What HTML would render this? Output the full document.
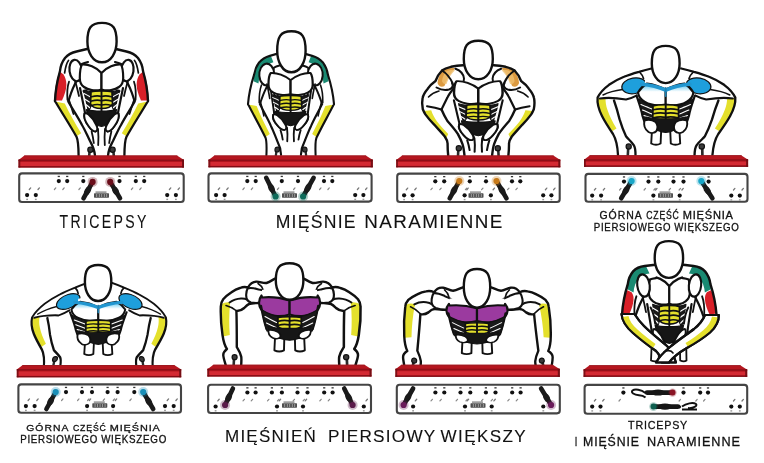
<!DOCTYPE html>
<html><head><meta charset="utf-8"><style>
html,body{margin:0;padding:0;background:#fff;}
svg{display:block;filter:blur(0.35px);}
</style></head><body>
<svg width="764" height="463" viewBox="0 0 764 463">
<rect width="764" height="463" fill="#fff"/>
<g id="figs"><g transform="translate(0 0)"><path d="M84.5 113.5 C83.5 117, 85.5 122, 88.5 126 C90.5 129, 93 131.5, 95.5 131.5 C97.5 131, 97.8 128.5, 96.5 125.5 C94.5 121, 91.5 117, 88.5 114.5 C87 113.3, 85.5 113, 84.5 113.5 Z" fill="#fff" stroke="#111" stroke-width="1.9" stroke-linejoin="round" stroke-linecap="round" />
<path d="M91.6 131.6 C92.5 135, 93.3 139, 93.8 143" fill="none" stroke="#111" stroke-width="1.8" stroke-linejoin="round" stroke-linecap="round" />
<path d="M98 129 C98.5 134, 98.6 139, 98.2 145" fill="none" stroke="#111" stroke-width="1.8" stroke-linejoin="round" stroke-linecap="round" /></g>
<g transform="translate(0 0)"><g transform="translate(203 0) scale(-1 1)"><path d="M84.5 113.5 C83.5 117, 85.5 122, 88.5 126 C90.5 129, 93 131.5, 95.5 131.5 C97.5 131, 97.8 128.5, 96.5 125.5 C94.5 121, 91.5 117, 88.5 114.5 C87 113.3, 85.5 113, 84.5 113.5 Z" fill="#fff" stroke="#111" stroke-width="1.9" stroke-linejoin="round" stroke-linecap="round" />
<path d="M91.6 131.6 C92.5 135, 93.3 139, 93.8 143" fill="none" stroke="#111" stroke-width="1.8" stroke-linejoin="round" stroke-linecap="round" />
<path d="M98 129 C98.5 134, 98.6 139, 98.2 145" fill="none" stroke="#111" stroke-width="1.8" stroke-linejoin="round" stroke-linecap="round" /></g></g>
<g transform="matrix(1.00000 -0.00000 -0.00000 1.00000 -0.0000 0.0000)"><path d="M55 101 C62 113, 70 125, 76.6 137 C78 140, 78.5 146, 78.6 155.5 L95 155.5 C94.5 150, 93 146, 90 141 C87 135, 85 130, 82 125 C78 117, 73 110, 68 101 Z" fill="#fff" stroke="none" stroke-width="0" stroke-linejoin="round" stroke-linecap="round" />
<path d="M55.5 101.5 C62 113, 69.5 125, 76.2 136.5 L81.2 133.3 C75 123, 69.5 113.5, 64.8 103.5 Z" fill="#e4e02c" stroke="none" stroke-width="0" stroke-linejoin="round" stroke-linecap="round" />
<path d="M55 101 C62 113, 70 125, 76.6 137 C78 140, 78.5 146, 78.6 155.5 M95 155.5 C94.5 150, 93 146, 90 141 C87 135, 85 130, 82 125 C78 117, 73 110, 68 101" fill="none" stroke="#111" stroke-width="2.3" stroke-linejoin="round" stroke-linecap="round" />
<path d="M69 100 C71 105, 72 110, 73.5 114" fill="none" stroke="#111" stroke-width="1.7" stroke-linejoin="round" stroke-linecap="round" />
<path d="M76.6 51.5 C72 52.5, 68 54.5, 65 58 C62 62, 60.5 66, 60 71 C58 78, 55.5 88, 55 101 C59 102.5, 64 102.5, 68.5 101 C70 96, 72 90, 74 86 C77 80, 80 74, 81 68 L82 64 C84 63, 86 62.5, 88 62 L87 49 Z" fill="#fff" stroke="none" stroke-width="0" stroke-linejoin="round" stroke-linecap="round" />
<path d="M59.8 71.5 C57 77, 54.6 88, 54.5 100.5 L62 100.5 C64.5 95, 66.2 90, 66.4 85 C66.5 80.5, 65 77, 63.5 74.5 Z" fill="#d81f28" stroke="none" stroke-width="0" stroke-linejoin="round" stroke-linecap="round" />
<path d="M87 49 L76.6 51.5 C72 52.5, 68 54.5, 65 58 C62 62, 60.5 66, 60 71 C58 78, 55.5 88, 55 101" fill="none" stroke="#111" stroke-width="2.4" stroke-linejoin="round" stroke-linecap="round" />
<path d="M68.5 101 C70 96, 72 90, 74 86 C77 80, 80 74, 81 68 L82 64 C84 63, 86 62.5, 88 62" fill="none" stroke="#111" stroke-width="2.2" stroke-linejoin="round" stroke-linecap="round" />
<ellipse cx="75.8" cy="70.5" rx="6.3" ry="10.8" transform="rotate(-8 75.8 70.5)" fill="#fff" stroke="#111" stroke-width="2.2"/>
<path d="M68.5 60.5 C66.5 63, 65.5 67, 64.6 73" fill="none" stroke="#111" stroke-width="1.7" stroke-linejoin="round" stroke-linecap="round" />
<path d="M69 81.7 C67.5 86, 66.8 91, 67.5 100" fill="none" stroke="#111" stroke-width="1.8" stroke-linejoin="round" stroke-linecap="round" />
<path d="M75 81 C76.5 85, 77.5 90, 79 96" fill="none" stroke="#111" stroke-width="1.8" stroke-linejoin="round" stroke-linecap="round" />
<path d="M80 88 C81.5 95, 83 103, 84.5 110 C85 114, 85.8 117, 86.3 119" fill="none" stroke="#111" stroke-width="2.2" stroke-linejoin="round" stroke-linecap="round" />
<path d="M89.6 151 L89.2 156" fill="none" stroke="#2a2a2a" stroke-width="2.6" stroke-linejoin="round" stroke-linecap="round" />
<circle cx="90.4" cy="149.8" r="2.6" fill="#3a3a3a" stroke="#111" stroke-width="1.2"/>
<path d="M83.5 91 C86 95, 87.5 100, 88.5 106" fill="none" stroke="#111" stroke-width="2" stroke-linejoin="round" stroke-linecap="round" />
<path d="M86 90 C88 93, 89.5 96, 90.5 99" fill="none" stroke="#111" stroke-width="1.6" stroke-linejoin="round" stroke-linecap="round" /></g>
<g transform="matrix(1.00000 0.00000 -0.00000 1.00000 -0.0000 0.0000)"><g transform="translate(203 0) scale(-1 1)"><path d="M55 101 C62 113, 70 125, 76.6 137 C78 140, 78.5 146, 78.6 155.5 L95 155.5 C94.5 150, 93 146, 90 141 C87 135, 85 130, 82 125 C78 117, 73 110, 68 101 Z" fill="#fff" stroke="none" stroke-width="0" stroke-linejoin="round" stroke-linecap="round" />
<path d="M55.5 101.5 C62 113, 69.5 125, 76.2 136.5 L81.2 133.3 C75 123, 69.5 113.5, 64.8 103.5 Z" fill="#e4e02c" stroke="none" stroke-width="0" stroke-linejoin="round" stroke-linecap="round" />
<path d="M55 101 C62 113, 70 125, 76.6 137 C78 140, 78.5 146, 78.6 155.5 M95 155.5 C94.5 150, 93 146, 90 141 C87 135, 85 130, 82 125 C78 117, 73 110, 68 101" fill="none" stroke="#111" stroke-width="2.3" stroke-linejoin="round" stroke-linecap="round" />
<path d="M69 100 C71 105, 72 110, 73.5 114" fill="none" stroke="#111" stroke-width="1.7" stroke-linejoin="round" stroke-linecap="round" />
<path d="M76.6 51.5 C72 52.5, 68 54.5, 65 58 C62 62, 60.5 66, 60 71 C58 78, 55.5 88, 55 101 C59 102.5, 64 102.5, 68.5 101 C70 96, 72 90, 74 86 C77 80, 80 74, 81 68 L82 64 C84 63, 86 62.5, 88 62 L87 49 Z" fill="#fff" stroke="none" stroke-width="0" stroke-linejoin="round" stroke-linecap="round" />
<path d="M59.8 71.5 C57 77, 54.6 88, 54.5 100.5 L62 100.5 C64.5 95, 66.2 90, 66.4 85 C66.5 80.5, 65 77, 63.5 74.5 Z" fill="#d81f28" stroke="none" stroke-width="0" stroke-linejoin="round" stroke-linecap="round" />
<path d="M87 49 L76.6 51.5 C72 52.5, 68 54.5, 65 58 C62 62, 60.5 66, 60 71 C58 78, 55.5 88, 55 101" fill="none" stroke="#111" stroke-width="2.4" stroke-linejoin="round" stroke-linecap="round" />
<path d="M68.5 101 C70 96, 72 90, 74 86 C77 80, 80 74, 81 68 L82 64 C84 63, 86 62.5, 88 62" fill="none" stroke="#111" stroke-width="2.2" stroke-linejoin="round" stroke-linecap="round" />
<ellipse cx="75.8" cy="70.5" rx="6.3" ry="10.8" transform="rotate(-8 75.8 70.5)" fill="#fff" stroke="#111" stroke-width="2.2"/>
<path d="M68.5 60.5 C66.5 63, 65.5 67, 64.6 73" fill="none" stroke="#111" stroke-width="1.7" stroke-linejoin="round" stroke-linecap="round" />
<path d="M69 81.7 C67.5 86, 66.8 91, 67.5 100" fill="none" stroke="#111" stroke-width="1.8" stroke-linejoin="round" stroke-linecap="round" />
<path d="M75 81 C76.5 85, 77.5 90, 79 96" fill="none" stroke="#111" stroke-width="1.8" stroke-linejoin="round" stroke-linecap="round" />
<path d="M80 88 C81.5 95, 83 103, 84.5 110 C85 114, 85.8 117, 86.3 119" fill="none" stroke="#111" stroke-width="2.2" stroke-linejoin="round" stroke-linecap="round" />
<path d="M89.6 151 L89.2 156" fill="none" stroke="#2a2a2a" stroke-width="2.6" stroke-linejoin="round" stroke-linecap="round" />
<circle cx="90.4" cy="149.8" r="2.6" fill="#3a3a3a" stroke="#111" stroke-width="1.2"/>
<path d="M83.5 91 C86 95, 87.5 100, 88.5 106" fill="none" stroke="#111" stroke-width="2" stroke-linejoin="round" stroke-linecap="round" />
<path d="M86 90 C88 93, 89.5 96, 90.5 99" fill="none" stroke="#111" stroke-width="1.6" stroke-linejoin="round" stroke-linecap="round" /></g></g>
<g transform="translate(0 0)"><path d="M82 64.5 C88 64, 96 67, 101.5 73 L101.5 89.5 C95 91.5, 88 90, 84 87 C81 85, 79.8 82, 79.8 78 C79.8 72, 80.5 67, 82 64.5 Z" fill="#fff" stroke="#111" stroke-width="2.2" stroke-linejoin="round" stroke-linecap="round" />
<path d="M121 64.5 C115 64, 107 67, 101.5 73 L101.5 89.5 C108 91.5, 115 90, 119 87 C122 85, 123.2 82, 123.2 78 C123.2 72, 122.5 67, 121 64.5 Z" fill="#fff" stroke="#111" stroke-width="2.2" stroke-linejoin="round" stroke-linecap="round" />
<path d="M84 90 C86.5 91, 89 91.5, 91.5 91.8 L91 106 C90 108.5, 89.2 110.5, 88.5 112 C87.5 107, 86 100, 84.8 95 Z" fill="#1a1a1a" stroke="#111" stroke-width="1.2" stroke-linejoin="round" stroke-linecap="round" />
<g transform="translate(203 0) scale(-1 1)"><path d="M84 90 C86.5 91, 89 91.5, 91.5 91.8 L91 106 C90 108.5, 89.2 110.5, 88.5 112 C87.5 107, 86 100, 84.8 95 Z" fill="#1a1a1a" stroke="#111" stroke-width="1.2" stroke-linejoin="round" stroke-linecap="round" /></g>
<path d="M84 93.5 C86 94.5, 88 95.5, 90.5 97" fill="none" stroke="#fff" stroke-width="1.2" stroke-linejoin="round" stroke-linecap="round" />
<g transform="translate(203 0) scale(-1 1)"><path d="M84 93.5 C86 94.5, 88 95.5, 90.5 97" fill="none" stroke="#fff" stroke-width="1.2" stroke-linejoin="round" stroke-linecap="round" /></g>
<path d="M84.8 99 C86.5 100, 88.3 101, 90.3 102.5" fill="none" stroke="#fff" stroke-width="1.2" stroke-linejoin="round" stroke-linecap="round" />
<g transform="translate(203 0) scale(-1 1)"><path d="M84.8 99 C86.5 100, 88.3 101, 90.3 102.5" fill="none" stroke="#fff" stroke-width="1.2" stroke-linejoin="round" stroke-linecap="round" /></g>
<path d="M85.8 104.5 C87 105.3, 88.3 106.3, 89.5 107.5" fill="none" stroke="#fff" stroke-width="1.2" stroke-linejoin="round" stroke-linecap="round" />
<g transform="translate(203 0) scale(-1 1)"><path d="M85.8 104.5 C87 105.3, 88.3 106.3, 89.5 107.5" fill="none" stroke="#fff" stroke-width="1.2" stroke-linejoin="round" stroke-linecap="round" /></g>
<path d="M91 92 C95 90.5, 108 90.5, 112 92 L112.5 104 C110 110, 93 110, 90.5 104 Z" fill="#e4e02c" stroke="#111" stroke-width="1.7" stroke-linejoin="round" stroke-linecap="round" />
<path d="M101.5 90.5 L101.5 111" fill="none" stroke="#111" stroke-width="1.9" stroke-linejoin="round" stroke-linecap="round" />
<path d="M91.5 96.8 C95 95.7, 99 95.7, 101.5 96.4 C104 95.7, 108 95.7, 111.5 96.8" fill="none" stroke="#111" stroke-width="1.6" stroke-linejoin="round" stroke-linecap="round" />
<path d="M91.5 101.1 C95 100, 99 100, 101.5 100.7 C104 100, 108 100, 111.5 101.1" fill="none" stroke="#111" stroke-width="1.6" stroke-linejoin="round" stroke-linecap="round" />
<path d="M91.5 105.4 C95 104.3, 99 104.3, 101.5 105 C104 104.3, 108 104.3, 111.5 105.4" fill="none" stroke="#111" stroke-width="1.6" stroke-linejoin="round" stroke-linecap="round" />
<path d="M86.5 109.5 C93 111.5, 110 111.5, 116.5 109.5 C116 116, 110 125, 101.5 126.5 C93 125, 87 116, 86.5 109.5 Z" fill="#161616" stroke="#111" stroke-width="1.2" stroke-linejoin="round" stroke-linecap="round" />
<path d="M84.5 113.5 C83.5 117, 85.5 122, 88.5 126 C90.5 129, 93 131.5, 95.5 131.5 C97.5 131, 97.8 128.5, 96.5 125.5 C94.5 121, 91.5 117, 88.5 114.5 C87 113.3, 85.5 113, 84.5 113.5 Z" fill="#fff" stroke="#111" stroke-width="1.9" stroke-linejoin="round" stroke-linecap="round" />
<g transform="translate(203 0) scale(-1 1)"><path d="M84.5 113.5 C83.5 117, 85.5 122, 88.5 126 C90.5 129, 93 131.5, 95.5 131.5 C97.5 131, 97.8 128.5, 96.5 125.5 C94.5 121, 91.5 117, 88.5 114.5 C87 113.3, 85.5 113, 84.5 113.5 Z" fill="#fff" stroke="#111" stroke-width="1.9" stroke-linejoin="round" stroke-linecap="round" /></g></g>
<path d="M102 22.9 C113.4 22.9, 116.6 28.4, 116.6 41.6 C116.6 52.5, 111.1 62.3, 102 62.3 C92.9 62.3, 87.4 52.5, 87.4 41.6 C87.4 28.4, 90.6 22.9, 102 22.9 Z" fill="#fff" stroke="#111" stroke-width="2.4"/><g transform="matrix(1.0200 0 0 0.8500 187.070 18.175)"><path d="M84.5 113.5 C83.5 117, 85.5 122, 88.5 126 C90.5 129, 93 131.5, 95.5 131.5 C97.5 131, 97.8 128.5, 96.5 125.5 C94.5 121, 91.5 117, 88.5 114.5 C87 113.3, 85.5 113, 84.5 113.5 Z" fill="#fff" stroke="#111" stroke-width="1.9" stroke-linejoin="round" stroke-linecap="round" />
<path d="M91.6 131.6 C92.5 135, 93.3 139, 93.8 143" fill="none" stroke="#111" stroke-width="1.8" stroke-linejoin="round" stroke-linecap="round" />
<path d="M98 129 C98.5 134, 98.6 139, 98.2 145" fill="none" stroke="#111" stroke-width="1.8" stroke-linejoin="round" stroke-linecap="round" /></g>
<g transform="matrix(1.0200 0 0 0.8500 187.070 18.175)"><g transform="translate(203 0) scale(-1 1)"><path d="M84.5 113.5 C83.5 117, 85.5 122, 88.5 126 C90.5 129, 93 131.5, 95.5 131.5 C97.5 131, 97.8 128.5, 96.5 125.5 C94.5 121, 91.5 117, 88.5 114.5 C87 113.3, 85.5 113, 84.5 113.5 Z" fill="#fff" stroke="#111" stroke-width="1.9" stroke-linejoin="round" stroke-linecap="round" />
<path d="M91.6 131.6 C92.5 135, 93.3 139, 93.8 143" fill="none" stroke="#111" stroke-width="1.8" stroke-linejoin="round" stroke-linecap="round" />
<path d="M98 129 C98.5 134, 98.6 139, 98.2 145" fill="none" stroke="#111" stroke-width="1.8" stroke-linejoin="round" stroke-linecap="round" /></g></g>
<g transform="matrix(0.89490 -0.03486 -0.04990 0.95853 203.8201 9.1060)"><path d="M55 101 C62 113, 70 125, 76.6 137 C78 140, 78.5 146, 78.6 155.5 L95 155.5 C94.5 150, 93 146, 90 141 C87 135, 85 130, 82 125 C78 117, 73 110, 68 101 Z" fill="#fff" stroke="none" stroke-width="0" stroke-linejoin="round" stroke-linecap="round" />
<path d="M55.5 101.5 C62 113, 69.5 125, 76.2 136.5 L81.2 133.3 C75 123, 69.5 113.5, 64.8 103.5 Z" fill="#e4e02c" stroke="none" stroke-width="0" stroke-linejoin="round" stroke-linecap="round" />
<path d="M55 101 C62 113, 70 125, 76.6 137 C78 140, 78.5 146, 78.6 155.5 M95 155.5 C94.5 150, 93 146, 90 141 C87 135, 85 130, 82 125 C78 117, 73 110, 68 101" fill="none" stroke="#111" stroke-width="2.3" stroke-linejoin="round" stroke-linecap="round" />
<path d="M69 100 C71 105, 72 110, 73.5 114" fill="none" stroke="#111" stroke-width="1.7" stroke-linejoin="round" stroke-linecap="round" />
<path d="M76.6 51.5 C72 52.5, 68 54.5, 65 58 C62 62, 60.5 66, 60 71 C58 78, 55.5 88, 55 101 C59 102.5, 64 102.5, 68.5 101 C70 96, 72 90, 74 86 C77 80, 80 74, 81 68 L82 64 C84 63, 86 62.5, 88 62 L87 49 Z" fill="#fff" stroke="none" stroke-width="0" stroke-linejoin="round" stroke-linecap="round" />
<path d="M77.5 51 C70 52.8, 64.2 56.8, 61.6 63.5 C60.3 67, 59.8 71, 59.8 77.5 L65.5 80 C65.8 74, 67.3 68.5, 70.3 64.5 C72.8 61.3, 76.5 59.3, 81 58.3 Z" fill="#1a8a72" stroke="none" stroke-width="0" stroke-linejoin="round" stroke-linecap="round" />
<path d="M87 49 L76.6 51.5 C72 52.5, 68 54.5, 65 58 C62 62, 60.5 66, 60 71 C58 78, 55.5 88, 55 101" fill="none" stroke="#111" stroke-width="2.4" stroke-linejoin="round" stroke-linecap="round" />
<path d="M68.5 101 C70 96, 72 90, 74 86 C77 80, 80 74, 81 68 L82 64 C84 63, 86 62.5, 88 62" fill="none" stroke="#111" stroke-width="2.2" stroke-linejoin="round" stroke-linecap="round" />
<ellipse cx="74.3" cy="71" rx="8.3" ry="11.5" transform="rotate(-8 74.3 71)" fill="#fff" stroke="#111" stroke-width="2.2"/>
<path d="M69 81.7 C67.5 86, 66.8 91, 67.5 100" fill="none" stroke="#111" stroke-width="1.8" stroke-linejoin="round" stroke-linecap="round" />
<path d="M75 81 C76.5 85, 77.5 90, 79 96" fill="none" stroke="#111" stroke-width="1.8" stroke-linejoin="round" stroke-linecap="round" />
<path d="M80 88 C81.5 95, 83 103, 84.5 110 C85 114, 85.8 117, 86.3 119" fill="none" stroke="#111" stroke-width="2.2" stroke-linejoin="round" stroke-linecap="round" />
<path d="M89.6 151 L89.2 156" fill="none" stroke="#2a2a2a" stroke-width="2.6" stroke-linejoin="round" stroke-linecap="round" />
<circle cx="90.4" cy="149.8" r="2.6" fill="#3a3a3a" stroke="#111" stroke-width="1.2"/>
<path d="M83.5 91 C86 95, 87.5 100, 88.5 106" fill="none" stroke="#111" stroke-width="2" stroke-linejoin="round" stroke-linecap="round" />
<path d="M86 90 C88 93, 89.5 96, 90.5 99" fill="none" stroke="#111" stroke-width="1.6" stroke-linejoin="round" stroke-linecap="round" /></g>
<g transform="matrix(0.89490 0.03486 0.04990 0.95853 196.5142 2.0298)"><g transform="translate(203 0) scale(-1 1)"><path d="M55 101 C62 113, 70 125, 76.6 137 C78 140, 78.5 146, 78.6 155.5 L95 155.5 C94.5 150, 93 146, 90 141 C87 135, 85 130, 82 125 C78 117, 73 110, 68 101 Z" fill="#fff" stroke="none" stroke-width="0" stroke-linejoin="round" stroke-linecap="round" />
<path d="M55.5 101.5 C62 113, 69.5 125, 76.2 136.5 L81.2 133.3 C75 123, 69.5 113.5, 64.8 103.5 Z" fill="#e4e02c" stroke="none" stroke-width="0" stroke-linejoin="round" stroke-linecap="round" />
<path d="M55 101 C62 113, 70 125, 76.6 137 C78 140, 78.5 146, 78.6 155.5 M95 155.5 C94.5 150, 93 146, 90 141 C87 135, 85 130, 82 125 C78 117, 73 110, 68 101" fill="none" stroke="#111" stroke-width="2.3" stroke-linejoin="round" stroke-linecap="round" />
<path d="M69 100 C71 105, 72 110, 73.5 114" fill="none" stroke="#111" stroke-width="1.7" stroke-linejoin="round" stroke-linecap="round" />
<path d="M76.6 51.5 C72 52.5, 68 54.5, 65 58 C62 62, 60.5 66, 60 71 C58 78, 55.5 88, 55 101 C59 102.5, 64 102.5, 68.5 101 C70 96, 72 90, 74 86 C77 80, 80 74, 81 68 L82 64 C84 63, 86 62.5, 88 62 L87 49 Z" fill="#fff" stroke="none" stroke-width="0" stroke-linejoin="round" stroke-linecap="round" />
<path d="M77.5 51 C70 52.8, 64.2 56.8, 61.6 63.5 C60.3 67, 59.8 71, 59.8 77.5 L65.5 80 C65.8 74, 67.3 68.5, 70.3 64.5 C72.8 61.3, 76.5 59.3, 81 58.3 Z" fill="#1a8a72" stroke="none" stroke-width="0" stroke-linejoin="round" stroke-linecap="round" />
<path d="M87 49 L76.6 51.5 C72 52.5, 68 54.5, 65 58 C62 62, 60.5 66, 60 71 C58 78, 55.5 88, 55 101" fill="none" stroke="#111" stroke-width="2.4" stroke-linejoin="round" stroke-linecap="round" />
<path d="M68.5 101 C70 96, 72 90, 74 86 C77 80, 80 74, 81 68 L82 64 C84 63, 86 62.5, 88 62" fill="none" stroke="#111" stroke-width="2.2" stroke-linejoin="round" stroke-linecap="round" />
<ellipse cx="74.3" cy="71" rx="8.3" ry="11.5" transform="rotate(-8 74.3 71)" fill="#fff" stroke="#111" stroke-width="2.2"/>
<path d="M69 81.7 C67.5 86, 66.8 91, 67.5 100" fill="none" stroke="#111" stroke-width="1.8" stroke-linejoin="round" stroke-linecap="round" />
<path d="M75 81 C76.5 85, 77.5 90, 79 96" fill="none" stroke="#111" stroke-width="1.8" stroke-linejoin="round" stroke-linecap="round" />
<path d="M80 88 C81.5 95, 83 103, 84.5 110 C85 114, 85.8 117, 86.3 119" fill="none" stroke="#111" stroke-width="2.2" stroke-linejoin="round" stroke-linecap="round" />
<path d="M89.6 151 L89.2 156" fill="none" stroke="#2a2a2a" stroke-width="2.6" stroke-linejoin="round" stroke-linecap="round" />
<circle cx="90.4" cy="149.8" r="2.6" fill="#3a3a3a" stroke="#111" stroke-width="1.2"/>
<path d="M83.5 91 C86 95, 87.5 100, 88.5 106" fill="none" stroke="#111" stroke-width="2" stroke-linejoin="round" stroke-linecap="round" />
<path d="M86 90 C88 93, 89.5 96, 90.5 99" fill="none" stroke="#111" stroke-width="1.6" stroke-linejoin="round" stroke-linecap="round" /></g></g>
<g transform="matrix(1.0200 0 0 0.8500 187.070 18.175)"><path d="M82 64.5 C88 64, 96 67, 101.5 73 L101.5 89.5 C95 91.5, 88 90, 84 87 C81 85, 79.8 82, 79.8 78 C79.8 72, 80.5 67, 82 64.5 Z" fill="#fff" stroke="#111" stroke-width="2.2" stroke-linejoin="round" stroke-linecap="round" />
<path d="M121 64.5 C115 64, 107 67, 101.5 73 L101.5 89.5 C108 91.5, 115 90, 119 87 C122 85, 123.2 82, 123.2 78 C123.2 72, 122.5 67, 121 64.5 Z" fill="#fff" stroke="#111" stroke-width="2.2" stroke-linejoin="round" stroke-linecap="round" />
<path d="M84 90 C86.5 91, 89 91.5, 91.5 91.8 L91 106 C90 108.5, 89.2 110.5, 88.5 112 C87.5 107, 86 100, 84.8 95 Z" fill="#1a1a1a" stroke="#111" stroke-width="1.2" stroke-linejoin="round" stroke-linecap="round" />
<g transform="translate(203 0) scale(-1 1)"><path d="M84 90 C86.5 91, 89 91.5, 91.5 91.8 L91 106 C90 108.5, 89.2 110.5, 88.5 112 C87.5 107, 86 100, 84.8 95 Z" fill="#1a1a1a" stroke="#111" stroke-width="1.2" stroke-linejoin="round" stroke-linecap="round" /></g>
<path d="M84 93.5 C86 94.5, 88 95.5, 90.5 97" fill="none" stroke="#fff" stroke-width="1.2" stroke-linejoin="round" stroke-linecap="round" />
<g transform="translate(203 0) scale(-1 1)"><path d="M84 93.5 C86 94.5, 88 95.5, 90.5 97" fill="none" stroke="#fff" stroke-width="1.2" stroke-linejoin="round" stroke-linecap="round" /></g>
<path d="M84.8 99 C86.5 100, 88.3 101, 90.3 102.5" fill="none" stroke="#fff" stroke-width="1.2" stroke-linejoin="round" stroke-linecap="round" />
<g transform="translate(203 0) scale(-1 1)"><path d="M84.8 99 C86.5 100, 88.3 101, 90.3 102.5" fill="none" stroke="#fff" stroke-width="1.2" stroke-linejoin="round" stroke-linecap="round" /></g>
<path d="M85.8 104.5 C87 105.3, 88.3 106.3, 89.5 107.5" fill="none" stroke="#fff" stroke-width="1.2" stroke-linejoin="round" stroke-linecap="round" />
<g transform="translate(203 0) scale(-1 1)"><path d="M85.8 104.5 C87 105.3, 88.3 106.3, 89.5 107.5" fill="none" stroke="#fff" stroke-width="1.2" stroke-linejoin="round" stroke-linecap="round" /></g>
<path d="M91 92 C95 90.5, 108 90.5, 112 92 L112.5 104 C110 110, 93 110, 90.5 104 Z" fill="#e4e02c" stroke="#111" stroke-width="1.7" stroke-linejoin="round" stroke-linecap="round" />
<path d="M101.5 90.5 L101.5 111" fill="none" stroke="#111" stroke-width="1.9" stroke-linejoin="round" stroke-linecap="round" />
<path d="M91.5 96.8 C95 95.7, 99 95.7, 101.5 96.4 C104 95.7, 108 95.7, 111.5 96.8" fill="none" stroke="#111" stroke-width="1.6" stroke-linejoin="round" stroke-linecap="round" />
<path d="M91.5 101.1 C95 100, 99 100, 101.5 100.7 C104 100, 108 100, 111.5 101.1" fill="none" stroke="#111" stroke-width="1.6" stroke-linejoin="round" stroke-linecap="round" />
<path d="M91.5 105.4 C95 104.3, 99 104.3, 101.5 105 C104 104.3, 108 104.3, 111.5 105.4" fill="none" stroke="#111" stroke-width="1.6" stroke-linejoin="round" stroke-linecap="round" />
<path d="M86.5 109.5 C93 111.5, 110 111.5, 116.5 109.5 C116 116, 110 125, 101.5 126.5 C93 125, 87 116, 86.5 109.5 Z" fill="#161616" stroke="#111" stroke-width="1.2" stroke-linejoin="round" stroke-linecap="round" />
<path d="M84.5 113.5 C83.5 117, 85.5 122, 88.5 126 C90.5 129, 93 131.5, 95.5 131.5 C97.5 131, 97.8 128.5, 96.5 125.5 C94.5 121, 91.5 117, 88.5 114.5 C87 113.3, 85.5 113, 84.5 113.5 Z" fill="#fff" stroke="#111" stroke-width="1.9" stroke-linejoin="round" stroke-linecap="round" />
<g transform="translate(203 0) scale(-1 1)"><path d="M84.5 113.5 C83.5 117, 85.5 122, 88.5 126 C90.5 129, 93 131.5, 95.5 131.5 C97.5 131, 97.8 128.5, 96.5 125.5 C94.5 121, 91.5 117, 88.5 114.5 C87 113.3, 85.5 113, 84.5 113.5 Z" fill="#fff" stroke="#111" stroke-width="1.9" stroke-linejoin="round" stroke-linecap="round" /></g></g>
<path d="M291.4 31.3 C302.5 31.3, 305.6 37, 305.6 50.8 C305.6 62, 300.2 72.3, 291.4 72.3 C282.6 72.3, 277.2 62, 277.2 50.8 C277.2 37, 280.3 31.3, 291.4 31.3 Z" fill="#fff" stroke="#111" stroke-width="2.4"/><g transform="matrix(1.1200 0 0 0.8800 364.620 24.440)"><path d="M84.5 113.5 C83.5 117, 85.5 122, 88.5 126 C90.5 129, 93 131.5, 95.5 131.5 C97.5 131, 97.8 128.5, 96.5 125.5 C94.5 121, 91.5 117, 88.5 114.5 C87 113.3, 85.5 113, 84.5 113.5 Z" fill="#fff" stroke="#111" stroke-width="1.9" stroke-linejoin="round" stroke-linecap="round" />
<path d="M91.6 131.6 C92.5 135, 93.3 139, 93.8 143" fill="none" stroke="#111" stroke-width="1.8" stroke-linejoin="round" stroke-linecap="round" />
<path d="M98 129 C98.5 134, 98.6 139, 98.2 145" fill="none" stroke="#111" stroke-width="1.8" stroke-linejoin="round" stroke-linecap="round" /></g>
<g transform="matrix(1.1200 0 0 0.8800 364.620 24.440)"><g transform="translate(203 0) scale(-1 1)"><path d="M84.5 113.5 C83.5 117, 85.5 122, 88.5 126 C90.5 129, 93 131.5, 95.5 131.5 C97.5 131, 97.8 128.5, 96.5 125.5 C94.5 121, 91.5 117, 88.5 114.5 C87 113.3, 85.5 113, 84.5 113.5 Z" fill="#fff" stroke="#111" stroke-width="1.9" stroke-linejoin="round" stroke-linecap="round" />
<path d="M91.6 131.6 C92.5 135, 93.3 139, 93.8 143" fill="none" stroke="#111" stroke-width="1.8" stroke-linejoin="round" stroke-linecap="round" />
<path d="M98 129 C98.5 134, 98.6 139, 98.2 145" fill="none" stroke="#111" stroke-width="1.8" stroke-linejoin="round" stroke-linecap="round" /></g></g>
<path d="M463 65.3 C459 65.5, 455 66, 451 66.8 C447 67.8, 444 69, 442 70.5 C439 73.5, 437 77, 435.5 81 C432 83.5, 429.5 86, 427.8 88.7 C425 92, 423.2 95, 422.6 98 C421.8 101.5, 422 105, 422.8 109.3 C423.5 111, 424.2 112.5, 425.4 114.4 C428 118, 431 121.5, 434.4 124.8 C438 129, 441.5 132.5, 444.8 136.5 C446.5 139, 447.4 141, 447.6 143.5 C447.6 146, 447.5 149, 448.2 155.5 L464.5 155.5 C464 151, 463.5 147, 462.5 144.2 C461 140, 459.5 137, 457.8 133.9 C454.5 129, 451 125, 447.4 121 C445 117, 443 113, 441.5 109.5 C443.5 105.5, 445.5 101.5, 447.4 97.6 C449 94, 451.5 91, 454 88 L463 76 Z" fill="#fff" stroke="none" stroke-width="0" stroke-linejoin="round" stroke-linecap="round" />
<path d="M442.5 70.5 C446.5 68.3, 451 67.6, 455.5 68.3 C452 71, 447.5 77, 444.5 86 C441.5 87.5, 438.5 86.5, 437.5 83 C438 78, 440 73.5, 442.5 70.5 Z" fill="#dc9a40" stroke="none" stroke-width="0" stroke-linejoin="round" stroke-linecap="round" />
<path d="M446 71.5 C449 70, 452 69.8, 455 70.3 C451.5 73.5, 448.5 78, 446.5 84 C444.5 84.5, 442.5 83.5, 442 81 C442.5 77, 444 74, 446 71.5 Z" fill="#f0c070" stroke="none" stroke-width="0" stroke-linejoin="round" stroke-linecap="round" opacity="0.8"/>
<path d="M423.5 111 C426 115.5, 430 120.5, 434.5 125.5 C438.5 130, 442.5 134, 446 138.5 L448.2 134 C444.5 130, 440.5 126, 437 121.5 C434.5 118, 432.5 114, 431.2 110.2 Z" fill="#e4e02c" stroke="none" stroke-width="0" stroke-linejoin="round" stroke-linecap="round" />
<path d="M463 65.3 C459 65.5, 455 66, 451 66.8 C447 67.8, 444 69, 442 70.5 C439 73.5, 437 77, 435.5 81 C432 83.5, 429.5 86, 427.8 88.7 C425 92, 423.2 95, 422.6 98 C421.8 101.5, 422 105, 422.8 109.3 C423.5 111, 424.2 112.5, 425.4 114.4 C428 118, 431 121.5, 434.4 124.8 C438 129, 441.5 132.5, 444.8 136.5 C446.5 139, 447.4 141, 447.6 143.5 C447.6 146, 447.5 149, 448.2 155.5 M464.5 155.5 C464 151, 463.5 147, 462.5 144.2 C461 140, 459.5 137, 457.8 133.9 C454.5 129, 451 125, 447.4 121 C445 117, 443 113, 441.5 109.5" fill="none" stroke="#111" stroke-width="2.4" stroke-linejoin="round" stroke-linecap="round" />
<path d="M441.5 109.5 C443.5 105.5, 445.5 101.5, 447.4 97.6 C449 94, 451.5 91, 454 88" fill="none" stroke="#111" stroke-width="2.2" stroke-linejoin="round" stroke-linecap="round" />
<path d="M442 70.5 C446 73, 450 77.5, 452.5 83 C453.5 86, 452 88.5, 449 89.5 C445 90.5, 440 89.5, 436.5 87.5" fill="none" stroke="#111" stroke-width="2" stroke-linejoin="round" stroke-linecap="round" />
<path d="M455.5 68.8 C460 70.5, 463.5 74, 464 78.5 C464.2 82, 461.5 85, 458 86 C455 86.8, 452.8 85.5, 452 83" fill="none" stroke="#111" stroke-width="2" stroke-linejoin="round" stroke-linecap="round" />
<path d="M427 106.2 C431 106.8, 436 107.6, 441.5 109.5" fill="none" stroke="#111" stroke-width="2" stroke-linejoin="round" stroke-linecap="round" />
<path d="M428.5 97 C431.5 94, 435 92, 439 91" fill="none" stroke="#111" stroke-width="1.6" stroke-linejoin="round" stroke-linecap="round" />
<path d="M453.9 100.2 C456 109, 458 118, 460.4 127.4" fill="none" stroke="#111" stroke-width="2.1" stroke-linejoin="round" stroke-linecap="round" />
<path d="M458.3 150 L458 156" fill="none" stroke="#2a2a2a" stroke-width="2.6" stroke-linejoin="round" stroke-linecap="round" />
<circle cx="458.8" cy="148.3" r="2.6" fill="#3a3a3a" stroke="#111" stroke-width="1.2"/>
<g transform="translate(956.6 0) scale(-1 1)"><path d="M463 65.3 C459 65.5, 455 66, 451 66.8 C447 67.8, 444 69, 442 70.5 C439 73.5, 437 77, 435.5 81 C432 83.5, 429.5 86, 427.8 88.7 C425 92, 423.2 95, 422.6 98 C421.8 101.5, 422 105, 422.8 109.3 C423.5 111, 424.2 112.5, 425.4 114.4 C428 118, 431 121.5, 434.4 124.8 C438 129, 441.5 132.5, 444.8 136.5 C446.5 139, 447.4 141, 447.6 143.5 C447.6 146, 447.5 149, 448.2 155.5 L464.5 155.5 C464 151, 463.5 147, 462.5 144.2 C461 140, 459.5 137, 457.8 133.9 C454.5 129, 451 125, 447.4 121 C445 117, 443 113, 441.5 109.5 C443.5 105.5, 445.5 101.5, 447.4 97.6 C449 94, 451.5 91, 454 88 L463 76 Z" fill="#fff" stroke="none" stroke-width="0" stroke-linejoin="round" stroke-linecap="round" />
<path d="M442.5 70.5 C446.5 68.3, 451 67.6, 455.5 68.3 C452 71, 447.5 77, 444.5 86 C441.5 87.5, 438.5 86.5, 437.5 83 C438 78, 440 73.5, 442.5 70.5 Z" fill="#dc9a40" stroke="none" stroke-width="0" stroke-linejoin="round" stroke-linecap="round" />
<path d="M446 71.5 C449 70, 452 69.8, 455 70.3 C451.5 73.5, 448.5 78, 446.5 84 C444.5 84.5, 442.5 83.5, 442 81 C442.5 77, 444 74, 446 71.5 Z" fill="#f0c070" stroke="none" stroke-width="0" stroke-linejoin="round" stroke-linecap="round" opacity="0.8"/>
<path d="M423.5 111 C426 115.5, 430 120.5, 434.5 125.5 C438.5 130, 442.5 134, 446 138.5 L448.2 134 C444.5 130, 440.5 126, 437 121.5 C434.5 118, 432.5 114, 431.2 110.2 Z" fill="#e4e02c" stroke="none" stroke-width="0" stroke-linejoin="round" stroke-linecap="round" />
<path d="M463 65.3 C459 65.5, 455 66, 451 66.8 C447 67.8, 444 69, 442 70.5 C439 73.5, 437 77, 435.5 81 C432 83.5, 429.5 86, 427.8 88.7 C425 92, 423.2 95, 422.6 98 C421.8 101.5, 422 105, 422.8 109.3 C423.5 111, 424.2 112.5, 425.4 114.4 C428 118, 431 121.5, 434.4 124.8 C438 129, 441.5 132.5, 444.8 136.5 C446.5 139, 447.4 141, 447.6 143.5 C447.6 146, 447.5 149, 448.2 155.5 M464.5 155.5 C464 151, 463.5 147, 462.5 144.2 C461 140, 459.5 137, 457.8 133.9 C454.5 129, 451 125, 447.4 121 C445 117, 443 113, 441.5 109.5" fill="none" stroke="#111" stroke-width="2.4" stroke-linejoin="round" stroke-linecap="round" />
<path d="M441.5 109.5 C443.5 105.5, 445.5 101.5, 447.4 97.6 C449 94, 451.5 91, 454 88" fill="none" stroke="#111" stroke-width="2.2" stroke-linejoin="round" stroke-linecap="round" />
<path d="M442 70.5 C446 73, 450 77.5, 452.5 83 C453.5 86, 452 88.5, 449 89.5 C445 90.5, 440 89.5, 436.5 87.5" fill="none" stroke="#111" stroke-width="2" stroke-linejoin="round" stroke-linecap="round" />
<path d="M455.5 68.8 C460 70.5, 463.5 74, 464 78.5 C464.2 82, 461.5 85, 458 86 C455 86.8, 452.8 85.5, 452 83" fill="none" stroke="#111" stroke-width="2" stroke-linejoin="round" stroke-linecap="round" />
<path d="M427 106.2 C431 106.8, 436 107.6, 441.5 109.5" fill="none" stroke="#111" stroke-width="2" stroke-linejoin="round" stroke-linecap="round" />
<path d="M428.5 97 C431.5 94, 435 92, 439 91" fill="none" stroke="#111" stroke-width="1.6" stroke-linejoin="round" stroke-linecap="round" />
<path d="M453.9 100.2 C456 109, 458 118, 460.4 127.4" fill="none" stroke="#111" stroke-width="2.1" stroke-linejoin="round" stroke-linecap="round" />
<path d="M458.3 150 L458 156" fill="none" stroke="#2a2a2a" stroke-width="2.6" stroke-linejoin="round" stroke-linecap="round" />
<circle cx="458.8" cy="148.3" r="2.6" fill="#3a3a3a" stroke="#111" stroke-width="1.2"/></g>
<g transform="matrix(1.1200 0 0 0.8800 364.620 24.440)"><path d="M82 64.5 C88 64, 96 67, 101.5 73 L101.5 89.5 C95 91.5, 88 90, 84 87 C81 85, 79.8 82, 79.8 78 C79.8 72, 80.5 67, 82 64.5 Z" fill="#fff" stroke="#111" stroke-width="2.2" stroke-linejoin="round" stroke-linecap="round" />
<path d="M121 64.5 C115 64, 107 67, 101.5 73 L101.5 89.5 C108 91.5, 115 90, 119 87 C122 85, 123.2 82, 123.2 78 C123.2 72, 122.5 67, 121 64.5 Z" fill="#fff" stroke="#111" stroke-width="2.2" stroke-linejoin="round" stroke-linecap="round" />
<path d="M84 90 C86.5 91, 89 91.5, 91.5 91.8 L91 106 C90 108.5, 89.2 110.5, 88.5 112 C87.5 107, 86 100, 84.8 95 Z" fill="#1a1a1a" stroke="#111" stroke-width="1.2" stroke-linejoin="round" stroke-linecap="round" />
<g transform="translate(203 0) scale(-1 1)"><path d="M84 90 C86.5 91, 89 91.5, 91.5 91.8 L91 106 C90 108.5, 89.2 110.5, 88.5 112 C87.5 107, 86 100, 84.8 95 Z" fill="#1a1a1a" stroke="#111" stroke-width="1.2" stroke-linejoin="round" stroke-linecap="round" /></g>
<path d="M84 93.5 C86 94.5, 88 95.5, 90.5 97" fill="none" stroke="#fff" stroke-width="1.2" stroke-linejoin="round" stroke-linecap="round" />
<g transform="translate(203 0) scale(-1 1)"><path d="M84 93.5 C86 94.5, 88 95.5, 90.5 97" fill="none" stroke="#fff" stroke-width="1.2" stroke-linejoin="round" stroke-linecap="round" /></g>
<path d="M84.8 99 C86.5 100, 88.3 101, 90.3 102.5" fill="none" stroke="#fff" stroke-width="1.2" stroke-linejoin="round" stroke-linecap="round" />
<g transform="translate(203 0) scale(-1 1)"><path d="M84.8 99 C86.5 100, 88.3 101, 90.3 102.5" fill="none" stroke="#fff" stroke-width="1.2" stroke-linejoin="round" stroke-linecap="round" /></g>
<path d="M85.8 104.5 C87 105.3, 88.3 106.3, 89.5 107.5" fill="none" stroke="#fff" stroke-width="1.2" stroke-linejoin="round" stroke-linecap="round" />
<g transform="translate(203 0) scale(-1 1)"><path d="M85.8 104.5 C87 105.3, 88.3 106.3, 89.5 107.5" fill="none" stroke="#fff" stroke-width="1.2" stroke-linejoin="round" stroke-linecap="round" /></g>
<path d="M91 92 C95 90.5, 108 90.5, 112 92 L112.5 104 C110 110, 93 110, 90.5 104 Z" fill="#e4e02c" stroke="#111" stroke-width="1.7" stroke-linejoin="round" stroke-linecap="round" />
<path d="M101.5 90.5 L101.5 111" fill="none" stroke="#111" stroke-width="1.9" stroke-linejoin="round" stroke-linecap="round" />
<path d="M91.5 96.8 C95 95.7, 99 95.7, 101.5 96.4 C104 95.7, 108 95.7, 111.5 96.8" fill="none" stroke="#111" stroke-width="1.6" stroke-linejoin="round" stroke-linecap="round" />
<path d="M91.5 101.1 C95 100, 99 100, 101.5 100.7 C104 100, 108 100, 111.5 101.1" fill="none" stroke="#111" stroke-width="1.6" stroke-linejoin="round" stroke-linecap="round" />
<path d="M91.5 105.4 C95 104.3, 99 104.3, 101.5 105 C104 104.3, 108 104.3, 111.5 105.4" fill="none" stroke="#111" stroke-width="1.6" stroke-linejoin="round" stroke-linecap="round" />
<path d="M86.5 109.5 C93 111.5, 110 111.5, 116.5 109.5 C116 116, 110 125, 101.5 126.5 C93 125, 87 116, 86.5 109.5 Z" fill="#161616" stroke="#111" stroke-width="1.2" stroke-linejoin="round" stroke-linecap="round" />
<path d="M84.5 113.5 C83.5 117, 85.5 122, 88.5 126 C90.5 129, 93 131.5, 95.5 131.5 C97.5 131, 97.8 128.5, 96.5 125.5 C94.5 121, 91.5 117, 88.5 114.5 C87 113.3, 85.5 113, 84.5 113.5 Z" fill="#fff" stroke="#111" stroke-width="1.9" stroke-linejoin="round" stroke-linecap="round" />
<g transform="translate(203 0) scale(-1 1)"><path d="M84.5 113.5 C83.5 117, 85.5 122, 88.5 126 C90.5 129, 93 131.5, 95.5 131.5 C97.5 131, 97.8 128.5, 96.5 125.5 C94.5 121, 91.5 117, 88.5 114.5 C87 113.3, 85.5 113, 84.5 113.5 Z" fill="#fff" stroke="#111" stroke-width="1.9" stroke-linejoin="round" stroke-linecap="round" /></g></g>
<path d="M478.3 40.7 C489.6 40.7, 492.8 46.1, 492.8 59 C492.8 69.7, 487.3 79.3, 478.3 79.3 C469.3 79.3, 463.8 69.7, 463.8 59 C463.8 46.1, 467 40.7, 478.3 40.7 Z" fill="#fff" stroke="#111" stroke-width="2.4"/><g transform="translate(0 0)"><path d="M652 130 L651.2 143.5 C654 145, 658 145, 660.6 143.5 L661.2 130 Z" fill="#fff" stroke="#111" stroke-width="1.9" stroke-linejoin="round" stroke-linecap="round" /><g transform="translate(1331.4 0) scale(-1 1)"><path d="M652 130 L651.2 143.5 C654 145, 658 145, 660.6 143.5 L661.2 130 Z" fill="#fff" stroke="#111" stroke-width="1.9" stroke-linejoin="round" stroke-linecap="round" /></g></g>
<g transform="matrix(1.00000 0.00000 0.00000 1.00000 -0.0000 -0.0000)"><path d="M651.5 68.5 C647 69.5, 643 70.5, 639 71.8 C634 73.2, 629 74.6, 624 76.8 C618 79.2, 613 82, 609 84.8 C604 88.5, 600 92.5, 597.6 97.6 C597 103, 599 110, 602 116 C605 122, 609 128, 613 134 C616 139, 617.5 145, 618 155 L635.5 155 C635.5 150, 635 147, 633.9 145.3 C631 141, 628 139, 626 136.3 C623 130, 621 124, 619.6 119.4 C618 113, 616 106, 614 100.5 L612 98.5 C617 98.5, 622 99, 626 99.5 C630 98.5, 634 97, 636.5 95.6 L640 88 L652 82 Z" fill="#fff" stroke="none" stroke-width="0" stroke-linejoin="round" stroke-linecap="round" />
<path d="M597.8 98 C597.8 105, 599.5 111, 602.5 117 C605.5 122, 609 127, 612.5 131 L616.5 128.5 C612.5 122, 609.5 116, 607.5 110 C606 106, 605.5 102, 605.5 98 Z" fill="#e4e02c" stroke="none" stroke-width="0" stroke-linejoin="round" stroke-linecap="round" />
<path d="M651.5 68.5 C647 69.5, 643 70.5, 639 71.8 C634 73.2, 629 74.6, 624 76.8 C618 79.2, 613 82, 609 84.8 C604 88.5, 600 92.5, 597.6 97.6 C597 103, 599 110, 602 116 C605 122, 609 128, 613 134 C616 139, 617.5 145, 618 155 M635.5 155 C635.5 150, 635 147, 633.9 145.3 C631 141, 628 139, 626 136.3 C623 130, 621 124, 619.6 119.4 C618 113, 616 106, 614 100.5" fill="none" stroke="#111" stroke-width="2.3" stroke-linejoin="round" stroke-linecap="round" />
<path d="M600 98.5 C607 97.5, 617 98, 626 99.5 C630 98.5, 634 97, 636.5 95.6" fill="none" stroke="#111" stroke-width="2.1" stroke-linejoin="round" stroke-linecap="round" />
<path d="M603 95 C608 92.5, 615 90.5, 622.5 89.5" fill="none" stroke="#111" stroke-width="1.5" stroke-linejoin="round" stroke-linecap="round" />
<path d="M639.5 72 C641.5 74, 643 76, 643.5 78.5" fill="none" stroke="#111" stroke-width="1.7" stroke-linejoin="round" stroke-linecap="round" />
<ellipse cx="634" cy="85.8" rx="12.3" ry="7.8" transform="rotate(-10 634 85.8)" fill="#1e9fdc" stroke="#111" stroke-width="1.2"/>
<path d="M628.2 148 L627.8 155.5" fill="none" stroke="#2a2a2a" stroke-width="2.6" stroke-linejoin="round" stroke-linecap="round" />
<circle cx="628.7" cy="146.5" r="2.6" fill="#3a3a3a" stroke="#111" stroke-width="1.2"/></g>
<g transform="matrix(1.02192 0.00000 -0.03498 1.00000 -11.1858 -0.0000)"><g transform="translate(1331.4 0) scale(-1 1)"><path d="M651.5 68.5 C647 69.5, 643 70.5, 639 71.8 C634 73.2, 629 74.6, 624 76.8 C618 79.2, 613 82, 609 84.8 C604 88.5, 600 92.5, 597.6 97.6 C597 103, 599 110, 602 116 C605 122, 609 128, 613 134 C616 139, 617.5 145, 618 155 L635.5 155 C635.5 150, 635 147, 633.9 145.3 C631 141, 628 139, 626 136.3 C623 130, 621 124, 619.6 119.4 C618 113, 616 106, 614 100.5 L612 98.5 C617 98.5, 622 99, 626 99.5 C630 98.5, 634 97, 636.5 95.6 L640 88 L652 82 Z" fill="#fff" stroke="none" stroke-width="0" stroke-linejoin="round" stroke-linecap="round" />
<path d="M597.8 98 C597.8 105, 599.5 111, 602.5 117 C605.5 122, 609 127, 612.5 131 L616.5 128.5 C612.5 122, 609.5 116, 607.5 110 C606 106, 605.5 102, 605.5 98 Z" fill="#e4e02c" stroke="none" stroke-width="0" stroke-linejoin="round" stroke-linecap="round" />
<path d="M651.5 68.5 C647 69.5, 643 70.5, 639 71.8 C634 73.2, 629 74.6, 624 76.8 C618 79.2, 613 82, 609 84.8 C604 88.5, 600 92.5, 597.6 97.6 C597 103, 599 110, 602 116 C605 122, 609 128, 613 134 C616 139, 617.5 145, 618 155 M635.5 155 C635.5 150, 635 147, 633.9 145.3 C631 141, 628 139, 626 136.3 C623 130, 621 124, 619.6 119.4 C618 113, 616 106, 614 100.5" fill="none" stroke="#111" stroke-width="2.3" stroke-linejoin="round" stroke-linecap="round" />
<path d="M600 98.5 C607 97.5, 617 98, 626 99.5 C630 98.5, 634 97, 636.5 95.6" fill="none" stroke="#111" stroke-width="2.1" stroke-linejoin="round" stroke-linecap="round" />
<path d="M603 95 C608 92.5, 615 90.5, 622.5 89.5" fill="none" stroke="#111" stroke-width="1.5" stroke-linejoin="round" stroke-linecap="round" />
<path d="M639.5 72 C641.5 74, 643 76, 643.5 78.5" fill="none" stroke="#111" stroke-width="1.7" stroke-linejoin="round" stroke-linecap="round" />
<ellipse cx="634" cy="85.8" rx="12.3" ry="7.8" transform="rotate(-10 634 85.8)" fill="#1e9fdc" stroke="#111" stroke-width="1.2"/>
<path d="M628.2 148 L627.8 155.5" fill="none" stroke="#2a2a2a" stroke-width="2.6" stroke-linejoin="round" stroke-linecap="round" />
<circle cx="628.7" cy="146.5" r="2.6" fill="#3a3a3a" stroke="#111" stroke-width="1.2"/></g></g>
<g transform="translate(0 0)"><defs><linearGradient id="bluechest" x1="0" y1="0" x2="0" y2="1"><stop offset="0" stop-color="#5cc2ee"/><stop offset="0.2" stop-color="#a8e0f6"/><stop offset="0.38" stop-color="#ffffff"/><stop offset="1" stop-color="#ffffff"/></linearGradient></defs>
<path d="M645 80 C652 79, 660 80, 665.7 82 C671 80, 679 79, 686 80 L687 92 L644 92 Z" fill="#fff" stroke="none" stroke-width="0" stroke-linejoin="round" stroke-linecap="round" />
<path d="M647 83.5 C655 84.5, 661 87, 665.7 89.5 L665.7 104.5 C658 106, 650 105, 645 102 C641 100, 638.5 96, 638 92.5 C640 89, 643 86, 647 83.5 Z" fill="url(#bluechest)" stroke="#111" stroke-width="2.1" stroke-linejoin="round" stroke-linecap="round" />
<g transform="translate(1331.4 0) scale(-1 1)"><path d="M647 83.5 C655 84.5, 661 87, 665.7 89.5 L665.7 104.5 C658 106, 650 105, 645 102 C641 100, 638.5 96, 638 92.5 C640 89, 643 86, 647 83.5 Z" fill="url(#bluechest)" stroke="#111" stroke-width="2.1" stroke-linejoin="round" stroke-linecap="round" /></g>
<path d="M641.5 84.2 C650 84.8, 659 87, 665.7 90.2" fill="none" stroke="#2196d0" stroke-width="3.6" stroke-linejoin="round" stroke-linecap="round" />
<g transform="translate(1331.4 0) scale(-1 1)"><path d="M641.5 84.2 C650 84.8, 659 87, 665.7 90.2" fill="none" stroke="#2196d0" stroke-width="3.6" stroke-linejoin="round" stroke-linecap="round" /></g>
<path d="M665.7 88 L665.7 96" fill="none" stroke="#1e7fb0" stroke-width="1.8" stroke-linejoin="round" stroke-linecap="round" />
<path d="M636.5 95.6 C639 103, 641.6 110, 642.5 116 C643.5 119, 644 121, 644.6 122" fill="none" stroke="#111" stroke-width="2.2" stroke-linejoin="round" stroke-linecap="round" />
<g transform="translate(1331.4 0) scale(-1 1)"><path d="M636.5 95.6 C639 103, 641.6 110, 642.5 116 C643.5 119, 644 121, 644.6 122" fill="none" stroke="#111" stroke-width="2.2" stroke-linejoin="round" stroke-linecap="round" /></g>
<path d="M643 104 C646 109, 648 114, 650 119" fill="none" stroke="#111" stroke-width="1.9" stroke-linejoin="round" stroke-linecap="round" />
<g transform="translate(1331.4 0) scale(-1 1)"><path d="M643 104 C646 109, 648 114, 650 119" fill="none" stroke="#111" stroke-width="1.9" stroke-linejoin="round" stroke-linecap="round" /></g>
<path d="M638.5 99 C643 102, 648 104.5, 653.5 105.5 L653 118 C650.5 120, 648 121, 645.5 122 C643.5 115, 641 107, 638.5 99 Z" fill="#1a1a1a" stroke="#111" stroke-width="1.2" stroke-linejoin="round" stroke-linecap="round" />
<g transform="translate(1331.4 0) scale(-1 1)"><path d="M638.5 99 C643 102, 648 104.5, 653.5 105.5 L653 118 C650.5 120, 648 121, 645.5 122 C643.5 115, 641 107, 638.5 99 Z" fill="#1a1a1a" stroke="#111" stroke-width="1.2" stroke-linejoin="round" stroke-linecap="round" /></g>
<path d="M641 104.5 C644.5 106, 648 107.5, 652 109" fill="none" stroke="#fff" stroke-width="1.2" stroke-linejoin="round" stroke-linecap="round" />
<g transform="translate(1331.4 0) scale(-1 1)"><path d="M641 104.5 C644.5 106, 648 107.5, 652 109" fill="none" stroke="#fff" stroke-width="1.2" stroke-linejoin="round" stroke-linecap="round" /></g>
<path d="M642.5 110 C645.5 111.3, 648.5 112.5, 652 114" fill="none" stroke="#fff" stroke-width="1.2" stroke-linejoin="round" stroke-linecap="round" />
<g transform="translate(1331.4 0) scale(-1 1)"><path d="M642.5 110 C645.5 111.3, 648.5 112.5, 652 114" fill="none" stroke="#fff" stroke-width="1.2" stroke-linejoin="round" stroke-linecap="round" /></g>
<path d="M644 115.5 C646.5 116.5, 649 117.3, 651.5 118" fill="none" stroke="#fff" stroke-width="1.2" stroke-linejoin="round" stroke-linecap="round" />
<g transform="translate(1331.4 0) scale(-1 1)"><path d="M644 115.5 C646.5 116.5, 649 117.3, 651.5 118" fill="none" stroke="#fff" stroke-width="1.2" stroke-linejoin="round" stroke-linecap="round" /></g>
<path d="M653 106 C658 104.3, 673 104.3, 678.4 106 L678.6 117 C676 122.5, 655 122.5, 652.8 117 Z" fill="#e4e02c" stroke="#111" stroke-width="1.7" stroke-linejoin="round" stroke-linecap="round" />
<path d="M665.7 104.5 L665.7 122" fill="none" stroke="#111" stroke-width="1.9" stroke-linejoin="round" stroke-linecap="round" />
<path d="M653.5 109.8 C658 108.7, 662 108.7, 665.7 109.4 C669 108.7, 673 108.7, 678 109.8" fill="none" stroke="#111" stroke-width="1.6" stroke-linejoin="round" stroke-linecap="round" />
<path d="M653.5 113.8 C658 112.7, 662 112.7, 665.7 113.4 C669 112.7, 673 112.7, 678 113.8" fill="none" stroke="#111" stroke-width="1.6" stroke-linejoin="round" stroke-linecap="round" />
<path d="M653.5 117.8 C658 116.7, 662 116.7, 665.7 117.4 C669 116.7, 673 116.7, 678 117.8" fill="none" stroke="#111" stroke-width="1.6" stroke-linejoin="round" stroke-linecap="round" />
<path d="M646 117 C654 119.5, 677 119.5, 685.4 117 C684.5 124, 676 131.5, 665.7 132.5 C655 131.5, 647 124, 646 117 Z" fill="#161616" stroke="#111" stroke-width="1.2" stroke-linejoin="round" stroke-linecap="round" />
<path d="M644.5 120.5 C643.5 125, 645 129.5, 648.5 132 C651 133.5, 654.5 133.2, 656.5 131 C658 128, 657.5 124.5, 655.5 122 C652.5 120, 648 119.5, 644.5 120.5 Z" fill="#fff" stroke="#111" stroke-width="1.9" stroke-linejoin="round" stroke-linecap="round" />
<g transform="translate(1331.4 0) scale(-1 1)"><path d="M644.5 120.5 C643.5 125, 645 129.5, 648.5 132 C651 133.5, 654.5 133.2, 656.5 131 C658 128, 657.5 124.5, 655.5 122 C652.5 120, 648 119.5, 644.5 120.5 Z" fill="#fff" stroke="#111" stroke-width="1.9" stroke-linejoin="round" stroke-linecap="round" /></g></g>
<path d="M665.7 45.9 C676.5 45.9, 679.6 51.1, 679.6 63.6 C679.6 73.8, 674.3 83.1, 665.7 83.1 C657.1 83.1, 651.8 73.8, 651.8 63.6 C651.8 51.1, 654.9 45.9, 665.7 45.9 Z" fill="#fff" stroke="#111" stroke-width="2.4"/><g transform="matrix(0.97 0 0 0.87 -547.429 229.085)"><path d="M652 130 L651.2 143.5 C654 145, 658 145, 660.6 143.5 L661.2 130 Z" fill="#fff" stroke="#111" stroke-width="1.9" stroke-linejoin="round" stroke-linecap="round" /><g transform="translate(1331.4 0) scale(-1 1)"><path d="M652 130 L651.2 143.5 C654 145, 658 145, 660.6 143.5 L661.2 130 Z" fill="#fff" stroke="#111" stroke-width="1.9" stroke-linejoin="round" stroke-linecap="round" /></g></g>
<g transform="matrix(0.94675 -0.12874 -0.13470 0.93810 -520.4796 302.6323)"><path d="M651.5 68.5 C647 69.5, 643 70.5, 639 71.8 C634 73.2, 629 74.6, 624 76.8 C618 79.2, 613 82, 609 84.8 C604 88.5, 600 92.5, 597.6 97.6 C597 103, 599 110, 602 116 C605 122, 609 128, 613 134 C616 139, 617.5 145, 618 155 L635.5 155 C635.5 150, 635 147, 633.9 145.3 C631 141, 628 139, 626 136.3 C623 130, 621 124, 619.6 119.4 C618 113, 616 106, 614 100.5 L612 98.5 C617 98.5, 622 99, 626 99.5 C630 98.5, 634 97, 636.5 95.6 L640 88 L652 82 Z" fill="#fff" stroke="none" stroke-width="0" stroke-linejoin="round" stroke-linecap="round" />
<path d="M597.8 98 C597.8 105, 599.5 111, 602.5 117 C605.5 122, 609 127, 612.5 131 L616.5 128.5 C612.5 122, 609.5 116, 607.5 110 C606 106, 605.5 102, 605.5 98 Z" fill="#e4e02c" stroke="none" stroke-width="0" stroke-linejoin="round" stroke-linecap="round" />
<path d="M651.5 68.5 C647 69.5, 643 70.5, 639 71.8 C634 73.2, 629 74.6, 624 76.8 C618 79.2, 613 82, 609 84.8 C604 88.5, 600 92.5, 597.6 97.6 C597 103, 599 110, 602 116 C605 122, 609 128, 613 134 C616 139, 617.5 145, 618 155 M635.5 155 C635.5 150, 635 147, 633.9 145.3 C631 141, 628 139, 626 136.3 C623 130, 621 124, 619.6 119.4 C618 113, 616 106, 614 100.5" fill="none" stroke="#111" stroke-width="2.3" stroke-linejoin="round" stroke-linecap="round" />
<path d="M600 98.5 C607 97.5, 617 98, 626 99.5 C630 98.5, 634 97, 636.5 95.6" fill="none" stroke="#111" stroke-width="2.1" stroke-linejoin="round" stroke-linecap="round" />
<path d="M603 95 C608 92.5, 615 90.5, 622.5 89.5" fill="none" stroke="#111" stroke-width="1.5" stroke-linejoin="round" stroke-linecap="round" />
<path d="M639.5 72 C641.5 74, 643 76, 643.5 78.5" fill="none" stroke="#111" stroke-width="1.7" stroke-linejoin="round" stroke-linecap="round" />
<ellipse cx="634" cy="85.8" rx="12.3" ry="7.8" transform="rotate(-10 634 85.8)" fill="#1e9fdc" stroke="#111" stroke-width="1.2"/>
<path d="M628.2 148 L627.8 155.5" fill="none" stroke="#2a2a2a" stroke-width="2.6" stroke-linejoin="round" stroke-linecap="round" />
<circle cx="628.7" cy="146.5" r="2.6" fill="#3a3a3a" stroke="#111" stroke-width="1.2"/></g>
<g transform="matrix(0.93719 0.12874 0.10424 0.93810 -532.0417 131.2281)"><g transform="translate(1331.4 0) scale(-1 1)"><path d="M651.5 68.5 C647 69.5, 643 70.5, 639 71.8 C634 73.2, 629 74.6, 624 76.8 C618 79.2, 613 82, 609 84.8 C604 88.5, 600 92.5, 597.6 97.6 C597 103, 599 110, 602 116 C605 122, 609 128, 613 134 C616 139, 617.5 145, 618 155 L635.5 155 C635.5 150, 635 147, 633.9 145.3 C631 141, 628 139, 626 136.3 C623 130, 621 124, 619.6 119.4 C618 113, 616 106, 614 100.5 L612 98.5 C617 98.5, 622 99, 626 99.5 C630 98.5, 634 97, 636.5 95.6 L640 88 L652 82 Z" fill="#fff" stroke="none" stroke-width="0" stroke-linejoin="round" stroke-linecap="round" />
<path d="M597.8 98 C597.8 105, 599.5 111, 602.5 117 C605.5 122, 609 127, 612.5 131 L616.5 128.5 C612.5 122, 609.5 116, 607.5 110 C606 106, 605.5 102, 605.5 98 Z" fill="#e4e02c" stroke="none" stroke-width="0" stroke-linejoin="round" stroke-linecap="round" />
<path d="M651.5 68.5 C647 69.5, 643 70.5, 639 71.8 C634 73.2, 629 74.6, 624 76.8 C618 79.2, 613 82, 609 84.8 C604 88.5, 600 92.5, 597.6 97.6 C597 103, 599 110, 602 116 C605 122, 609 128, 613 134 C616 139, 617.5 145, 618 155 M635.5 155 C635.5 150, 635 147, 633.9 145.3 C631 141, 628 139, 626 136.3 C623 130, 621 124, 619.6 119.4 C618 113, 616 106, 614 100.5" fill="none" stroke="#111" stroke-width="2.3" stroke-linejoin="round" stroke-linecap="round" />
<path d="M600 98.5 C607 97.5, 617 98, 626 99.5 C630 98.5, 634 97, 636.5 95.6" fill="none" stroke="#111" stroke-width="2.1" stroke-linejoin="round" stroke-linecap="round" />
<path d="M603 95 C608 92.5, 615 90.5, 622.5 89.5" fill="none" stroke="#111" stroke-width="1.5" stroke-linejoin="round" stroke-linecap="round" />
<path d="M639.5 72 C641.5 74, 643 76, 643.5 78.5" fill="none" stroke="#111" stroke-width="1.7" stroke-linejoin="round" stroke-linecap="round" />
<ellipse cx="634" cy="85.8" rx="12.3" ry="7.8" transform="rotate(-10 634 85.8)" fill="#1e9fdc" stroke="#111" stroke-width="1.2"/>
<path d="M628.2 148 L627.8 155.5" fill="none" stroke="#2a2a2a" stroke-width="2.6" stroke-linejoin="round" stroke-linecap="round" />
<circle cx="628.7" cy="146.5" r="2.6" fill="#3a3a3a" stroke="#111" stroke-width="1.2"/></g></g>
<g transform="matrix(0.97 0 0 0.87 -547.429 229.085)"><defs><linearGradient id="bluechest" x1="0" y1="0" x2="0" y2="1"><stop offset="0" stop-color="#5cc2ee"/><stop offset="0.2" stop-color="#a8e0f6"/><stop offset="0.38" stop-color="#ffffff"/><stop offset="1" stop-color="#ffffff"/></linearGradient></defs>
<path d="M645 80 C652 79, 660 80, 665.7 82 C671 80, 679 79, 686 80 L687 92 L644 92 Z" fill="#fff" stroke="none" stroke-width="0" stroke-linejoin="round" stroke-linecap="round" />
<path d="M647 83.5 C655 84.5, 661 87, 665.7 89.5 L665.7 104.5 C658 106, 650 105, 645 102 C641 100, 638.5 96, 638 92.5 C640 89, 643 86, 647 83.5 Z" fill="url(#bluechest)" stroke="#111" stroke-width="2.1" stroke-linejoin="round" stroke-linecap="round" />
<g transform="translate(1331.4 0) scale(-1 1)"><path d="M647 83.5 C655 84.5, 661 87, 665.7 89.5 L665.7 104.5 C658 106, 650 105, 645 102 C641 100, 638.5 96, 638 92.5 C640 89, 643 86, 647 83.5 Z" fill="url(#bluechest)" stroke="#111" stroke-width="2.1" stroke-linejoin="round" stroke-linecap="round" /></g>
<path d="M641.5 84.2 C650 84.8, 659 87, 665.7 90.2" fill="none" stroke="#2196d0" stroke-width="3.6" stroke-linejoin="round" stroke-linecap="round" />
<g transform="translate(1331.4 0) scale(-1 1)"><path d="M641.5 84.2 C650 84.8, 659 87, 665.7 90.2" fill="none" stroke="#2196d0" stroke-width="3.6" stroke-linejoin="round" stroke-linecap="round" /></g>
<path d="M665.7 88 L665.7 96" fill="none" stroke="#1e7fb0" stroke-width="1.8" stroke-linejoin="round" stroke-linecap="round" />
<path d="M636.5 95.6 C639 103, 641.6 110, 642.5 116 C643.5 119, 644 121, 644.6 122" fill="none" stroke="#111" stroke-width="2.2" stroke-linejoin="round" stroke-linecap="round" />
<g transform="translate(1331.4 0) scale(-1 1)"><path d="M636.5 95.6 C639 103, 641.6 110, 642.5 116 C643.5 119, 644 121, 644.6 122" fill="none" stroke="#111" stroke-width="2.2" stroke-linejoin="round" stroke-linecap="round" /></g>
<path d="M643 104 C646 109, 648 114, 650 119" fill="none" stroke="#111" stroke-width="1.9" stroke-linejoin="round" stroke-linecap="round" />
<g transform="translate(1331.4 0) scale(-1 1)"><path d="M643 104 C646 109, 648 114, 650 119" fill="none" stroke="#111" stroke-width="1.9" stroke-linejoin="round" stroke-linecap="round" /></g>
<path d="M638.5 99 C643 102, 648 104.5, 653.5 105.5 L653 118 C650.5 120, 648 121, 645.5 122 C643.5 115, 641 107, 638.5 99 Z" fill="#1a1a1a" stroke="#111" stroke-width="1.2" stroke-linejoin="round" stroke-linecap="round" />
<g transform="translate(1331.4 0) scale(-1 1)"><path d="M638.5 99 C643 102, 648 104.5, 653.5 105.5 L653 118 C650.5 120, 648 121, 645.5 122 C643.5 115, 641 107, 638.5 99 Z" fill="#1a1a1a" stroke="#111" stroke-width="1.2" stroke-linejoin="round" stroke-linecap="round" /></g>
<path d="M641 104.5 C644.5 106, 648 107.5, 652 109" fill="none" stroke="#fff" stroke-width="1.2" stroke-linejoin="round" stroke-linecap="round" />
<g transform="translate(1331.4 0) scale(-1 1)"><path d="M641 104.5 C644.5 106, 648 107.5, 652 109" fill="none" stroke="#fff" stroke-width="1.2" stroke-linejoin="round" stroke-linecap="round" /></g>
<path d="M642.5 110 C645.5 111.3, 648.5 112.5, 652 114" fill="none" stroke="#fff" stroke-width="1.2" stroke-linejoin="round" stroke-linecap="round" />
<g transform="translate(1331.4 0) scale(-1 1)"><path d="M642.5 110 C645.5 111.3, 648.5 112.5, 652 114" fill="none" stroke="#fff" stroke-width="1.2" stroke-linejoin="round" stroke-linecap="round" /></g>
<path d="M644 115.5 C646.5 116.5, 649 117.3, 651.5 118" fill="none" stroke="#fff" stroke-width="1.2" stroke-linejoin="round" stroke-linecap="round" />
<g transform="translate(1331.4 0) scale(-1 1)"><path d="M644 115.5 C646.5 116.5, 649 117.3, 651.5 118" fill="none" stroke="#fff" stroke-width="1.2" stroke-linejoin="round" stroke-linecap="round" /></g>
<path d="M653 106 C658 104.3, 673 104.3, 678.4 106 L678.6 117 C676 122.5, 655 122.5, 652.8 117 Z" fill="#e4e02c" stroke="#111" stroke-width="1.7" stroke-linejoin="round" stroke-linecap="round" />
<path d="M665.7 104.5 L665.7 122" fill="none" stroke="#111" stroke-width="1.9" stroke-linejoin="round" stroke-linecap="round" />
<path d="M653.5 109.8 C658 108.7, 662 108.7, 665.7 109.4 C669 108.7, 673 108.7, 678 109.8" fill="none" stroke="#111" stroke-width="1.6" stroke-linejoin="round" stroke-linecap="round" />
<path d="M653.5 113.8 C658 112.7, 662 112.7, 665.7 113.4 C669 112.7, 673 112.7, 678 113.8" fill="none" stroke="#111" stroke-width="1.6" stroke-linejoin="round" stroke-linecap="round" />
<path d="M653.5 117.8 C658 116.7, 662 116.7, 665.7 117.4 C669 116.7, 673 116.7, 678 117.8" fill="none" stroke="#111" stroke-width="1.6" stroke-linejoin="round" stroke-linecap="round" />
<path d="M646 117 C654 119.5, 677 119.5, 685.4 117 C684.5 124, 676 131.5, 665.7 132.5 C655 131.5, 647 124, 646 117 Z" fill="#161616" stroke="#111" stroke-width="1.2" stroke-linejoin="round" stroke-linecap="round" />
<path d="M644.5 120.5 C643.5 125, 645 129.5, 648.5 132 C651 133.5, 654.5 133.2, 656.5 131 C658 128, 657.5 124.5, 655.5 122 C652.5 120, 648 119.5, 644.5 120.5 Z" fill="#fff" stroke="#111" stroke-width="1.9" stroke-linejoin="round" stroke-linecap="round" />
<g transform="translate(1331.4 0) scale(-1 1)"><path d="M644.5 120.5 C643.5 125, 645 129.5, 648.5 132 C651 133.5, 654.5 133.2, 656.5 131 C658 128, 657.5 124.5, 655.5 122 C652.5 120, 648 119.5, 644.5 120.5 Z" fill="#fff" stroke="#111" stroke-width="1.9" stroke-linejoin="round" stroke-linecap="round" /></g></g>
<path d="M98.1 265 C108.4 265, 111.3 270, 111.3 282.1 C111.3 292, 106.3 301, 98.1 301 C89.9 301, 84.9 292, 84.9 282.1 C84.9 270, 87.8 265, 98.1 265 Z" fill="#fff" stroke="#111" stroke-width="2.4"/><g transform="translate(0 0)"><path d="M275 338 L274.4 350.3 C277 351.5, 281.5 351.5, 284 350.3 L284.3 338 Z" fill="#fff" stroke="#111" stroke-width="1.9" stroke-linejoin="round" stroke-linecap="round" /><g transform="translate(579.2 0) scale(-1 1)"><path d="M275 338 L274.4 350.3 C277 351.5, 281.5 351.5, 284 350.3 L284.3 338 Z" fill="#fff" stroke="#111" stroke-width="1.9" stroke-linejoin="round" stroke-linecap="round" /></g></g>
<g transform="matrix(1.00000 0.00000 0.00000 1.00000 -0.0000 -0.0000)"><path d="M276 278 C273 279.5, 270 282, 266.5 283 C263 283.5, 260 281.5, 256.5 281.6 C252.5 281.8, 249.5 284.5, 248 287.5 C245.5 286.8, 242.5 287, 240 288 C236.5 289, 234 290.5, 231.5 292.3 C228.5 294.3, 225.5 296.5, 223.2 299.2 C221.5 301.5, 220.8 304, 220.8 306.5 C220.5 315, 221 325, 222.5 335 C223.5 342, 225 346, 226.9 349 C224.5 351, 223 353, 223.3 355.5 C223.5 358, 224.5 361, 225.7 365 L241.2 365 C241.5 360, 241.5 358, 241.2 356.6 C240 352, 238 349, 236.8 347.1 C236.8 335, 236.8 322, 236.4 311 C239.5 311.2, 242 310, 244.2 308 C246 306, 247.5 304.5, 249 304 C252 303.3, 256 303.2, 259.5 302.8 C263 302.3, 267 301, 270.4 299.2 L276 296 Z" fill="#fff" stroke="none" stroke-width="0" stroke-linejoin="round" stroke-linecap="round" />
<path d="M221.2 304.5 C221 314, 221.5 326, 223.2 336.5 L229.8 335 C229 325, 229 314, 230.2 302.5 C227 301.8, 224 302.5, 221.2 304.5 Z" fill="#e4e02c" stroke="none" stroke-width="0" stroke-linejoin="round" stroke-linecap="round" />
<path d="M276 278 C273 279.5, 270 282, 266.5 283 C263 283.5, 260 281.5, 256.5 281.6 C252.5 281.8, 249.5 284.5, 248 287.5 C245.5 286.8, 242.5 287, 240 288 C236.5 289, 234 290.5, 231.5 292.3 C228.5 294.3, 225.5 296.5, 223.2 299.2 C221.5 301.5, 220.8 304, 220.8 306.5 C220.5 315, 221 325, 222.5 335 C223.5 342, 225 346, 226.9 349 C224.5 351, 223 353, 223.3 355.5 C223.5 358, 224.5 361, 225.7 365 M241.2 365 C241.5 360, 241.5 358, 241.2 356.6 C240 352, 238 349, 236.8 347.1 C236.8 335, 236.8 322, 236.4 311 C239.5 311.2, 242 310, 244.2 308 C246 306, 247.5 304.5, 249 304 C252 303.3, 256 303.2, 259.5 302.8 C263 302.3, 267 301, 270.4 299.2" fill="none" stroke="#111" stroke-width="2.4" stroke-linejoin="round" stroke-linecap="round" />
<path d="M247.6 288.5 C251 287.2, 255 288.5, 259 289.5 C263.5 290.3, 268 291.5, 270 294.5 C271 297.5, 268 300.5, 264 301.8 C260 303, 255 303.2, 251 302.5 C247.5 301.5, 246 298, 246.2 294.5 C246.3 292, 246.8 290, 247.6 288.5 Z" fill="#fff" stroke="#111" stroke-width="2.1" stroke-linejoin="round" stroke-linecap="round" />
<path d="M229.5 302.5 C233 300, 237 298.7, 241 298.5 C243.5 298.4, 245.5 298.7, 246.6 299.5" fill="none" stroke="#111" stroke-width="2" stroke-linejoin="round" stroke-linecap="round" />
<path d="M226 305.5 C230 306.5, 233 308, 236 310.5" fill="none" stroke="#111" stroke-width="1.6" stroke-linejoin="round" stroke-linecap="round" />
<path d="M258 283.5 C260.5 285, 262 286.5, 263 289.5" fill="none" stroke="#111" stroke-width="1.5" stroke-linejoin="round" stroke-linecap="round" />
<path d="M234 358.5 L233.7 365" fill="none" stroke="#2a2a2a" stroke-width="2.6" stroke-linejoin="round" stroke-linecap="round" />
<circle cx="234.6" cy="357.2" r="2.5" fill="#3a3a3a" stroke="#111" stroke-width="1.2"/></g>
<g transform="matrix(1.04713 -0.00000 0.00172 1.00000 -15.2848 0.0000)"><g transform="translate(579.2 0) scale(-1 1)"><path d="M276 278 C273 279.5, 270 282, 266.5 283 C263 283.5, 260 281.5, 256.5 281.6 C252.5 281.8, 249.5 284.5, 248 287.5 C245.5 286.8, 242.5 287, 240 288 C236.5 289, 234 290.5, 231.5 292.3 C228.5 294.3, 225.5 296.5, 223.2 299.2 C221.5 301.5, 220.8 304, 220.8 306.5 C220.5 315, 221 325, 222.5 335 C223.5 342, 225 346, 226.9 349 C224.5 351, 223 353, 223.3 355.5 C223.5 358, 224.5 361, 225.7 365 L241.2 365 C241.5 360, 241.5 358, 241.2 356.6 C240 352, 238 349, 236.8 347.1 C236.8 335, 236.8 322, 236.4 311 C239.5 311.2, 242 310, 244.2 308 C246 306, 247.5 304.5, 249 304 C252 303.3, 256 303.2, 259.5 302.8 C263 302.3, 267 301, 270.4 299.2 L276 296 Z" fill="#fff" stroke="none" stroke-width="0" stroke-linejoin="round" stroke-linecap="round" />
<path d="M221.2 304.5 C221 314, 221.5 326, 223.2 336.5 L229.8 335 C229 325, 229 314, 230.2 302.5 C227 301.8, 224 302.5, 221.2 304.5 Z" fill="#e4e02c" stroke="none" stroke-width="0" stroke-linejoin="round" stroke-linecap="round" />
<path d="M276 278 C273 279.5, 270 282, 266.5 283 C263 283.5, 260 281.5, 256.5 281.6 C252.5 281.8, 249.5 284.5, 248 287.5 C245.5 286.8, 242.5 287, 240 288 C236.5 289, 234 290.5, 231.5 292.3 C228.5 294.3, 225.5 296.5, 223.2 299.2 C221.5 301.5, 220.8 304, 220.8 306.5 C220.5 315, 221 325, 222.5 335 C223.5 342, 225 346, 226.9 349 C224.5 351, 223 353, 223.3 355.5 C223.5 358, 224.5 361, 225.7 365 M241.2 365 C241.5 360, 241.5 358, 241.2 356.6 C240 352, 238 349, 236.8 347.1 C236.8 335, 236.8 322, 236.4 311 C239.5 311.2, 242 310, 244.2 308 C246 306, 247.5 304.5, 249 304 C252 303.3, 256 303.2, 259.5 302.8 C263 302.3, 267 301, 270.4 299.2" fill="none" stroke="#111" stroke-width="2.4" stroke-linejoin="round" stroke-linecap="round" />
<path d="M247.6 288.5 C251 287.2, 255 288.5, 259 289.5 C263.5 290.3, 268 291.5, 270 294.5 C271 297.5, 268 300.5, 264 301.8 C260 303, 255 303.2, 251 302.5 C247.5 301.5, 246 298, 246.2 294.5 C246.3 292, 246.8 290, 247.6 288.5 Z" fill="#fff" stroke="#111" stroke-width="2.1" stroke-linejoin="round" stroke-linecap="round" />
<path d="M229.5 302.5 C233 300, 237 298.7, 241 298.5 C243.5 298.4, 245.5 298.7, 246.6 299.5" fill="none" stroke="#111" stroke-width="2" stroke-linejoin="round" stroke-linecap="round" />
<path d="M226 305.5 C230 306.5, 233 308, 236 310.5" fill="none" stroke="#111" stroke-width="1.6" stroke-linejoin="round" stroke-linecap="round" />
<path d="M258 283.5 C260.5 285, 262 286.5, 263 289.5" fill="none" stroke="#111" stroke-width="1.5" stroke-linejoin="round" stroke-linecap="round" />
<path d="M234 358.5 L233.7 365" fill="none" stroke="#2a2a2a" stroke-width="2.6" stroke-linejoin="round" stroke-linecap="round" />
<circle cx="234.6" cy="357.2" r="2.5" fill="#3a3a3a" stroke="#111" stroke-width="1.2"/></g></g>
<g transform="translate(0 0)"><path d="M262 290 C270 288, 280 288, 289.6 291 C299 288, 309 288, 317 290 L318 300 L261 300 Z" fill="#fff" stroke="none" stroke-width="0" stroke-linejoin="round" stroke-linecap="round" />
<path d="M262 297.5 C270 296.5, 280 297.5, 289.6 300.5 L289.6 314.5 C282 317, 272 316.5, 266 313.5 C262 311.5, 259.3 307.5, 259 303 C259 300, 259.8 297.5, 261.5 295.5 Z" fill="#9b3a9f" stroke="#111" stroke-width="2.2" stroke-linejoin="round" stroke-linecap="round" />
<g transform="translate(579.2 0) scale(-1 1)"><path d="M262 297.5 C270 296.5, 280 297.5, 289.6 300.5 L289.6 314.5 C282 317, 272 316.5, 266 313.5 C262 311.5, 259.3 307.5, 259 303 C259 300, 259.8 297.5, 261.5 295.5 Z" fill="#9b3a9f" stroke="#111" stroke-width="2.2" stroke-linejoin="round" stroke-linecap="round" /></g>
<path d="M261 306 C262.5 314, 264 321, 266.5 329" fill="none" stroke="#111" stroke-width="2.3" stroke-linejoin="round" stroke-linecap="round" />
<g transform="translate(579.2 0) scale(-1 1)"><path d="M261 306 C262.5 314, 264 321, 266.5 329" fill="none" stroke="#111" stroke-width="2.3" stroke-linejoin="round" stroke-linecap="round" /></g>
<path d="M262 310 C268 313.5, 273 315.5, 278.5 316.5 L278 330 C274 331, 270 331.5, 267 331 C265 325, 263 318, 262 310 Z" fill="#1a1a1a" stroke="#111" stroke-width="1.2" stroke-linejoin="round" stroke-linecap="round" />
<g transform="translate(579.2 0) scale(-1 1)"><path d="M262 310 C268 313.5, 273 315.5, 278.5 316.5 L278 330 C274 331, 270 331.5, 267 331 C265 325, 263 318, 262 310 Z" fill="#1a1a1a" stroke="#111" stroke-width="1.2" stroke-linejoin="round" stroke-linecap="round" /></g>
<path d="M265 316.5 C268.5 318.5, 272 320.5, 276.5 322.5" fill="none" stroke="#fff" stroke-width="1.1" stroke-linejoin="round" stroke-linecap="round" />
<g transform="translate(579.2 0) scale(-1 1)"><path d="M265 316.5 C268.5 318.5, 272 320.5, 276.5 322.5" fill="none" stroke="#fff" stroke-width="1.1" stroke-linejoin="round" stroke-linecap="round" /></g>
<path d="M266.5 323 C269.5 324.5, 272.5 326, 276 327.5" fill="none" stroke="#fff" stroke-width="1.1" stroke-linejoin="round" stroke-linecap="round" />
<g transform="translate(579.2 0) scale(-1 1)"><path d="M266.5 323 C269.5 324.5, 272.5 326, 276 327.5" fill="none" stroke="#fff" stroke-width="1.1" stroke-linejoin="round" stroke-linecap="round" /></g>
<path d="M278 317.5 C283 316.2, 296 316.2, 301.2 317.5 L301.4 326 C299 330.5, 280 330.5, 277.8 326 Z" fill="#e4e02c" stroke="#111" stroke-width="1.7" stroke-linejoin="round" stroke-linecap="round" />
<path d="M289.6 316 L289.6 330" fill="none" stroke="#111" stroke-width="1.9" stroke-linejoin="round" stroke-linecap="round" />
<path d="M278.5 321.3 C282 320.2, 286 320.2, 289.6 320.9 C293 320.2, 297 320.2, 300.8 321.3" fill="none" stroke="#111" stroke-width="1.6" stroke-linejoin="round" stroke-linecap="round" />
<path d="M278.5 325.3 C282 324.2, 286 324.2, 289.6 324.9 C293 324.2, 297 324.2, 300.8 325.3" fill="none" stroke="#111" stroke-width="1.6" stroke-linejoin="round" stroke-linecap="round" />
<path d="M268 326.5 C276 329, 303 329, 311.2 326.5 C310 333, 302 339.5, 289.6 340.2 C277 339.5, 269 333, 268 326.5 Z" fill="#161616" stroke="#111" stroke-width="1.2" stroke-linejoin="round" stroke-linecap="round" />
<path d="M268.5 330 C268 333, 269.5 336, 272.5 337.8 C275 339, 278.5 338.8, 280 337.3 C281 335.5, 280 333.5, 278 332 C275 330.3, 271.5 329.5, 268.5 330 Z" fill="#fff" stroke="#111" stroke-width="1.8" stroke-linejoin="round" stroke-linecap="round" />
<g transform="translate(579.2 0) scale(-1 1)"><path d="M268.5 330 C268 333, 269.5 336, 272.5 337.8 C275 339, 278.5 338.8, 280 337.3 C281 335.5, 280 333.5, 278 332 C275 330.3, 271.5 329.5, 268.5 330 Z" fill="#fff" stroke="#111" stroke-width="1.8" stroke-linejoin="round" stroke-linecap="round" /></g></g>
<path d="M289.6 263.3 C300.4 263.3, 303.4 268.4, 303.4 280.6 C303.4 290.6, 298.2 299.7, 289.6 299.7 C281 299.7, 275.8 290.6, 275.8 280.6 C275.8 268.4, 278.8 263.3, 289.6 263.3 Z" fill="#fff" stroke="#111" stroke-width="2.4"/><g transform="matrix(1 0 0 0.9 187.400 37.840)"><path d="M275 338 L274.4 350.3 C277 351.5, 281.5 351.5, 284 350.3 L284.3 338 Z" fill="#fff" stroke="#111" stroke-width="1.9" stroke-linejoin="round" stroke-linecap="round" /><g transform="translate(579.2 0) scale(-1 1)"><path d="M275 338 L274.4 350.3 C277 351.5, 281.5 351.5, 284 350.3 L284.3 338 Z" fill="#fff" stroke="#111" stroke-width="1.9" stroke-linejoin="round" stroke-linecap="round" /></g></g>
<g transform="matrix(0.99705 0.16992 -0.09485 1.01384 214.1598 -41.3700)"><path d="M276 278 C273 279.5, 270 282, 266.5 283 C263 283.5, 260 281.5, 256.5 281.6 C252.5 281.8, 249.5 284.5, 248 287.5 C245.5 286.8, 242.5 287, 240 288 C236.5 289, 234 290.5, 231.5 292.3 C228.5 294.3, 225.5 296.5, 223.2 299.2 C221.5 301.5, 220.8 304, 220.8 306.5 C220.5 315, 221 325, 222.5 335 C223.5 342, 225 346, 226.9 349 C224.5 351, 223 353, 223.3 355.5 C223.5 358, 224.5 361, 225.7 365 L241.2 365 C241.5 360, 241.5 358, 241.2 356.6 C240 352, 238 349, 236.8 347.1 C236.8 335, 236.8 322, 236.4 311 C239.5 311.2, 242 310, 244.2 308 C246 306, 247.5 304.5, 249 304 C252 303.3, 256 303.2, 259.5 302.8 C263 302.3, 267 301, 270.4 299.2 L276 296 Z" fill="#fff" stroke="none" stroke-width="0" stroke-linejoin="round" stroke-linecap="round" />
<path d="M221.2 304.5 C221 314, 221.5 326, 223.2 336.5 L229.8 335 C229 325, 229 314, 230.2 302.5 C227 301.8, 224 302.5, 221.2 304.5 Z" fill="#e4e02c" stroke="none" stroke-width="0" stroke-linejoin="round" stroke-linecap="round" />
<path d="M276 278 C273 279.5, 270 282, 266.5 283 C263 283.5, 260 281.5, 256.5 281.6 C252.5 281.8, 249.5 284.5, 248 287.5 C245.5 286.8, 242.5 287, 240 288 C236.5 289, 234 290.5, 231.5 292.3 C228.5 294.3, 225.5 296.5, 223.2 299.2 C221.5 301.5, 220.8 304, 220.8 306.5 C220.5 315, 221 325, 222.5 335 C223.5 342, 225 346, 226.9 349 C224.5 351, 223 353, 223.3 355.5 C223.5 358, 224.5 361, 225.7 365 M241.2 365 C241.5 360, 241.5 358, 241.2 356.6 C240 352, 238 349, 236.8 347.1 C236.8 335, 236.8 322, 236.4 311 C239.5 311.2, 242 310, 244.2 308 C246 306, 247.5 304.5, 249 304 C252 303.3, 256 303.2, 259.5 302.8 C263 302.3, 267 301, 270.4 299.2" fill="none" stroke="#111" stroke-width="2.4" stroke-linejoin="round" stroke-linecap="round" />
<path d="M247.6 288.5 C251 287.2, 255 288.5, 259 289.5 C263.5 290.3, 268 291.5, 270 294.5 C271 297.5, 268 300.5, 264 301.8 C260 303, 255 303.2, 251 302.5 C247.5 301.5, 246 298, 246.2 294.5 C246.3 292, 246.8 290, 247.6 288.5 Z" fill="#fff" stroke="#111" stroke-width="2.1" stroke-linejoin="round" stroke-linecap="round" />
<path d="M229.5 302.5 C233 300, 237 298.7, 241 298.5 C243.5 298.4, 245.5 298.7, 246.6 299.5" fill="none" stroke="#111" stroke-width="2" stroke-linejoin="round" stroke-linecap="round" />
<path d="M226 305.5 C230 306.5, 233 308, 236 310.5" fill="none" stroke="#111" stroke-width="1.6" stroke-linejoin="round" stroke-linecap="round" />
<path d="M258 283.5 C260.5 285, 262 286.5, 263 289.5" fill="none" stroke="#111" stroke-width="1.5" stroke-linejoin="round" stroke-linecap="round" />
<path d="M234 358.5 L233.7 365" fill="none" stroke="#2a2a2a" stroke-width="2.6" stroke-linejoin="round" stroke-linecap="round" />
<circle cx="234.6" cy="357.2" r="2.5" fill="#3a3a3a" stroke="#111" stroke-width="1.2"/></g>
<g transform="matrix(0.97884 -0.16992 0.12872 1.01384 158.5086 57.0455)"><g transform="translate(579.2 0) scale(-1 1)"><path d="M276 278 C273 279.5, 270 282, 266.5 283 C263 283.5, 260 281.5, 256.5 281.6 C252.5 281.8, 249.5 284.5, 248 287.5 C245.5 286.8, 242.5 287, 240 288 C236.5 289, 234 290.5, 231.5 292.3 C228.5 294.3, 225.5 296.5, 223.2 299.2 C221.5 301.5, 220.8 304, 220.8 306.5 C220.5 315, 221 325, 222.5 335 C223.5 342, 225 346, 226.9 349 C224.5 351, 223 353, 223.3 355.5 C223.5 358, 224.5 361, 225.7 365 L241.2 365 C241.5 360, 241.5 358, 241.2 356.6 C240 352, 238 349, 236.8 347.1 C236.8 335, 236.8 322, 236.4 311 C239.5 311.2, 242 310, 244.2 308 C246 306, 247.5 304.5, 249 304 C252 303.3, 256 303.2, 259.5 302.8 C263 302.3, 267 301, 270.4 299.2 L276 296 Z" fill="#fff" stroke="none" stroke-width="0" stroke-linejoin="round" stroke-linecap="round" />
<path d="M221.2 304.5 C221 314, 221.5 326, 223.2 336.5 L229.8 335 C229 325, 229 314, 230.2 302.5 C227 301.8, 224 302.5, 221.2 304.5 Z" fill="#e4e02c" stroke="none" stroke-width="0" stroke-linejoin="round" stroke-linecap="round" />
<path d="M276 278 C273 279.5, 270 282, 266.5 283 C263 283.5, 260 281.5, 256.5 281.6 C252.5 281.8, 249.5 284.5, 248 287.5 C245.5 286.8, 242.5 287, 240 288 C236.5 289, 234 290.5, 231.5 292.3 C228.5 294.3, 225.5 296.5, 223.2 299.2 C221.5 301.5, 220.8 304, 220.8 306.5 C220.5 315, 221 325, 222.5 335 C223.5 342, 225 346, 226.9 349 C224.5 351, 223 353, 223.3 355.5 C223.5 358, 224.5 361, 225.7 365 M241.2 365 C241.5 360, 241.5 358, 241.2 356.6 C240 352, 238 349, 236.8 347.1 C236.8 335, 236.8 322, 236.4 311 C239.5 311.2, 242 310, 244.2 308 C246 306, 247.5 304.5, 249 304 C252 303.3, 256 303.2, 259.5 302.8 C263 302.3, 267 301, 270.4 299.2" fill="none" stroke="#111" stroke-width="2.4" stroke-linejoin="round" stroke-linecap="round" />
<path d="M247.6 288.5 C251 287.2, 255 288.5, 259 289.5 C263.5 290.3, 268 291.5, 270 294.5 C271 297.5, 268 300.5, 264 301.8 C260 303, 255 303.2, 251 302.5 C247.5 301.5, 246 298, 246.2 294.5 C246.3 292, 246.8 290, 247.6 288.5 Z" fill="#fff" stroke="#111" stroke-width="2.1" stroke-linejoin="round" stroke-linecap="round" />
<path d="M229.5 302.5 C233 300, 237 298.7, 241 298.5 C243.5 298.4, 245.5 298.7, 246.6 299.5" fill="none" stroke="#111" stroke-width="2" stroke-linejoin="round" stroke-linecap="round" />
<path d="M226 305.5 C230 306.5, 233 308, 236 310.5" fill="none" stroke="#111" stroke-width="1.6" stroke-linejoin="round" stroke-linecap="round" />
<path d="M258 283.5 C260.5 285, 262 286.5, 263 289.5" fill="none" stroke="#111" stroke-width="1.5" stroke-linejoin="round" stroke-linecap="round" />
<path d="M234 358.5 L233.7 365" fill="none" stroke="#2a2a2a" stroke-width="2.6" stroke-linejoin="round" stroke-linecap="round" />
<circle cx="234.6" cy="357.2" r="2.5" fill="#3a3a3a" stroke="#111" stroke-width="1.2"/></g></g>
<g transform="matrix(1 0 0 0.9 187.400 37.840)"><path d="M262 290 C270 288, 280 288, 289.6 291 C299 288, 309 288, 317 290 L318 300 L261 300 Z" fill="#fff" stroke="none" stroke-width="0" stroke-linejoin="round" stroke-linecap="round" />
<path d="M262 297.5 C270 296.5, 280 297.5, 289.6 300.5 L289.6 314.5 C282 317, 272 316.5, 266 313.5 C262 311.5, 259.3 307.5, 259 303 C259 300, 259.8 297.5, 261.5 295.5 Z" fill="#9b3a9f" stroke="#111" stroke-width="2.2" stroke-linejoin="round" stroke-linecap="round" />
<g transform="translate(579.2 0) scale(-1 1)"><path d="M262 297.5 C270 296.5, 280 297.5, 289.6 300.5 L289.6 314.5 C282 317, 272 316.5, 266 313.5 C262 311.5, 259.3 307.5, 259 303 C259 300, 259.8 297.5, 261.5 295.5 Z" fill="#9b3a9f" stroke="#111" stroke-width="2.2" stroke-linejoin="round" stroke-linecap="round" /></g>
<path d="M261 306 C262.5 314, 264 321, 266.5 329" fill="none" stroke="#111" stroke-width="2.3" stroke-linejoin="round" stroke-linecap="round" />
<g transform="translate(579.2 0) scale(-1 1)"><path d="M261 306 C262.5 314, 264 321, 266.5 329" fill="none" stroke="#111" stroke-width="2.3" stroke-linejoin="round" stroke-linecap="round" /></g>
<path d="M262 310 C268 313.5, 273 315.5, 278.5 316.5 L278 330 C274 331, 270 331.5, 267 331 C265 325, 263 318, 262 310 Z" fill="#1a1a1a" stroke="#111" stroke-width="1.2" stroke-linejoin="round" stroke-linecap="round" />
<g transform="translate(579.2 0) scale(-1 1)"><path d="M262 310 C268 313.5, 273 315.5, 278.5 316.5 L278 330 C274 331, 270 331.5, 267 331 C265 325, 263 318, 262 310 Z" fill="#1a1a1a" stroke="#111" stroke-width="1.2" stroke-linejoin="round" stroke-linecap="round" /></g>
<path d="M265 316.5 C268.5 318.5, 272 320.5, 276.5 322.5" fill="none" stroke="#fff" stroke-width="1.1" stroke-linejoin="round" stroke-linecap="round" />
<g transform="translate(579.2 0) scale(-1 1)"><path d="M265 316.5 C268.5 318.5, 272 320.5, 276.5 322.5" fill="none" stroke="#fff" stroke-width="1.1" stroke-linejoin="round" stroke-linecap="round" /></g>
<path d="M266.5 323 C269.5 324.5, 272.5 326, 276 327.5" fill="none" stroke="#fff" stroke-width="1.1" stroke-linejoin="round" stroke-linecap="round" />
<g transform="translate(579.2 0) scale(-1 1)"><path d="M266.5 323 C269.5 324.5, 272.5 326, 276 327.5" fill="none" stroke="#fff" stroke-width="1.1" stroke-linejoin="round" stroke-linecap="round" /></g>
<path d="M278 317.5 C283 316.2, 296 316.2, 301.2 317.5 L301.4 326 C299 330.5, 280 330.5, 277.8 326 Z" fill="#e4e02c" stroke="#111" stroke-width="1.7" stroke-linejoin="round" stroke-linecap="round" />
<path d="M289.6 316 L289.6 330" fill="none" stroke="#111" stroke-width="1.9" stroke-linejoin="round" stroke-linecap="round" />
<path d="M278.5 321.3 C282 320.2, 286 320.2, 289.6 320.9 C293 320.2, 297 320.2, 300.8 321.3" fill="none" stroke="#111" stroke-width="1.6" stroke-linejoin="round" stroke-linecap="round" />
<path d="M278.5 325.3 C282 324.2, 286 324.2, 289.6 324.9 C293 324.2, 297 324.2, 300.8 325.3" fill="none" stroke="#111" stroke-width="1.6" stroke-linejoin="round" stroke-linecap="round" />
<path d="M268 326.5 C276 329, 303 329, 311.2 326.5 C310 333, 302 339.5, 289.6 340.2 C277 339.5, 269 333, 268 326.5 Z" fill="#161616" stroke="#111" stroke-width="1.2" stroke-linejoin="round" stroke-linecap="round" />
<path d="M268.5 330 C268 333, 269.5 336, 272.5 337.8 C275 339, 278.5 338.8, 280 337.3 C281 335.5, 280 333.5, 278 332 C275 330.3, 271.5 329.5, 268.5 330 Z" fill="#fff" stroke="#111" stroke-width="1.8" stroke-linejoin="round" stroke-linecap="round" />
<g transform="translate(579.2 0) scale(-1 1)"><path d="M268.5 330 C268 333, 269.5 336, 272.5 337.8 C275 339, 278.5 338.8, 280 337.3 C281 335.5, 280 333.5, 278 332 C275 330.3, 271.5 329.5, 268.5 330 Z" fill="#fff" stroke="#111" stroke-width="1.8" stroke-linejoin="round" stroke-linecap="round" /></g></g>
<path d="M477 269 C487.3 269, 490.2 274.4, 490.2 287.3 C490.2 297.9, 485.2 307.6, 477 307.6 C468.8 307.6, 463.8 297.9, 463.8 287.3 C463.8 274.4, 466.7 269, 477 269 Z" fill="#fff" stroke="#111" stroke-width="2.4"/><path d="M651.5 349 L651 360.5 C653.5 361.5, 656.5 361.5, 658.8 360.5 L658.8 349 Z" fill="#fff" stroke="#111" stroke-width="1.8" stroke-linejoin="round" stroke-linecap="round" />
<path d="M680 349 L680.2 360.5 C682.5 361.5, 685 361.5, 686.5 360.5 L686.3 349 Z" fill="#fff" stroke="#111" stroke-width="1.8" stroke-linejoin="round" stroke-linecap="round" />
<g transform="matrix(0.9500 0 0 1.0700 572.875 207.985)"><path d="M82 64.5 C88 64, 96 67, 101.5 73 L101.5 89.5 C95 91.5, 88 90, 84 87 C81 85, 79.8 82, 79.8 78 C79.8 72, 80.5 67, 82 64.5 Z" fill="#fff" stroke="#111" stroke-width="2.2" stroke-linejoin="round" stroke-linecap="round" />
<path d="M121 64.5 C115 64, 107 67, 101.5 73 L101.5 89.5 C108 91.5, 115 90, 119 87 C122 85, 123.2 82, 123.2 78 C123.2 72, 122.5 67, 121 64.5 Z" fill="#fff" stroke="#111" stroke-width="2.2" stroke-linejoin="round" stroke-linecap="round" />
<path d="M84 90 C86.5 91, 89 91.5, 91.5 91.8 L91 106 C90 108.5, 89.2 110.5, 88.5 112 C87.5 107, 86 100, 84.8 95 Z" fill="#1a1a1a" stroke="#111" stroke-width="1.2" stroke-linejoin="round" stroke-linecap="round" />
<g transform="translate(203 0) scale(-1 1)"><path d="M84 90 C86.5 91, 89 91.5, 91.5 91.8 L91 106 C90 108.5, 89.2 110.5, 88.5 112 C87.5 107, 86 100, 84.8 95 Z" fill="#1a1a1a" stroke="#111" stroke-width="1.2" stroke-linejoin="round" stroke-linecap="round" /></g>
<path d="M84 93.5 C86 94.5, 88 95.5, 90.5 97" fill="none" stroke="#fff" stroke-width="1.2" stroke-linejoin="round" stroke-linecap="round" />
<g transform="translate(203 0) scale(-1 1)"><path d="M84 93.5 C86 94.5, 88 95.5, 90.5 97" fill="none" stroke="#fff" stroke-width="1.2" stroke-linejoin="round" stroke-linecap="round" /></g>
<path d="M84.8 99 C86.5 100, 88.3 101, 90.3 102.5" fill="none" stroke="#fff" stroke-width="1.2" stroke-linejoin="round" stroke-linecap="round" />
<g transform="translate(203 0) scale(-1 1)"><path d="M84.8 99 C86.5 100, 88.3 101, 90.3 102.5" fill="none" stroke="#fff" stroke-width="1.2" stroke-linejoin="round" stroke-linecap="round" /></g>
<path d="M85.8 104.5 C87 105.3, 88.3 106.3, 89.5 107.5" fill="none" stroke="#fff" stroke-width="1.2" stroke-linejoin="round" stroke-linecap="round" />
<g transform="translate(203 0) scale(-1 1)"><path d="M85.8 104.5 C87 105.3, 88.3 106.3, 89.5 107.5" fill="none" stroke="#fff" stroke-width="1.2" stroke-linejoin="round" stroke-linecap="round" /></g>
<path d="M91 92 C95 90.5, 108 90.5, 112 92 L112.5 104 C110 110, 93 110, 90.5 104 Z" fill="#e4e02c" stroke="#111" stroke-width="1.7" stroke-linejoin="round" stroke-linecap="round" />
<path d="M101.5 90.5 L101.5 111" fill="none" stroke="#111" stroke-width="1.9" stroke-linejoin="round" stroke-linecap="round" />
<path d="M91.5 96.8 C95 95.7, 99 95.7, 101.5 96.4 C104 95.7, 108 95.7, 111.5 96.8" fill="none" stroke="#111" stroke-width="1.6" stroke-linejoin="round" stroke-linecap="round" />
<path d="M91.5 101.1 C95 100, 99 100, 101.5 100.7 C104 100, 108 100, 111.5 101.1" fill="none" stroke="#111" stroke-width="1.6" stroke-linejoin="round" stroke-linecap="round" />
<path d="M91.5 105.4 C95 104.3, 99 104.3, 101.5 105 C104 104.3, 108 104.3, 111.5 105.4" fill="none" stroke="#111" stroke-width="1.6" stroke-linejoin="round" stroke-linecap="round" />
<path d="M86.5 109.5 C93 111.5, 110 111.5, 116.5 109.5 C116 116, 110 125, 101.5 126.5 C93 125, 87 116, 86.5 109.5 Z" fill="#161616" stroke="#111" stroke-width="1.2" stroke-linejoin="round" stroke-linecap="round" />
<path d="M84.5 113.5 C83.5 117, 85.5 122, 88.5 126 C90.5 129, 93 131.5, 95.5 131.5 C97.5 131, 97.8 128.5, 96.5 125.5 C94.5 121, 91.5 117, 88.5 114.5 C87 113.3, 85.5 113, 84.5 113.5 Z" fill="#fff" stroke="#111" stroke-width="1.9" stroke-linejoin="round" stroke-linecap="round" />
<g transform="translate(203 0) scale(-1 1)"><path d="M84.5 113.5 C83.5 117, 85.5 122, 88.5 126 C90.5 129, 93 131.5, 95.5 131.5 C97.5 131, 97.8 128.5, 96.5 125.5 C94.5 121, 91.5 117, 88.5 114.5 C87 113.3, 85.5 113, 84.5 113.5 Z" fill="#fff" stroke="#111" stroke-width="1.9" stroke-linejoin="round" stroke-linecap="round" /></g></g>
<g transform="matrix(0.99474 0.11799 -0.02654 1.03128 569.9695 203.8510)"><path d="M76.6 51.5 C72 52.5, 68 54.5, 65 58 C62 62, 60.5 66, 60 71 C58 78, 55.5 88, 55 101 C59 102.5, 64 102.5, 68.5 101 C70 96, 72 90, 74 86 C77 80, 80 74, 81 68 L82 64 C84 63, 86 62.5, 88 62 L87 49 Z" fill="#fff" stroke="none" stroke-width="0" stroke-linejoin="round" stroke-linecap="round" />
<path d="M59.8 77 C57.2 81, 55 89, 54.8 100 L62 100.3 C64.5 95, 66 90, 66.2 85.5 C66.3 82, 65.3 80, 64 78.5 Z" fill="#d81f28" stroke="none" stroke-width="0" stroke-linejoin="round" stroke-linecap="round" />
<path d="M77.5 51 C70 52.8, 64.2 56.8, 61.6 63.5 C60.3 67, 59.8 71, 59.8 76 L66 78.5 C66.2 73, 67.8 68, 70.8 64.2 C73.3 61.2, 77 59.3, 81.5 58.3 Z" fill="#1a8a72" stroke="none" stroke-width="0" stroke-linejoin="round" stroke-linecap="round" />
<path d="M87 49 L76.6 51.5 C72 52.5, 68 54.5, 65 58 C62 62, 60.5 66, 60 71 C58 78, 55.5 88, 55 101" fill="none" stroke="#111" stroke-width="2.4" stroke-linejoin="round" stroke-linecap="round" />
<path d="M68.5 101 C70 96, 72 90, 74 86 C77 80, 80 74, 81 68 L82 64 C84 63, 86 62.5, 88 62" fill="none" stroke="#111" stroke-width="2.2" stroke-linejoin="round" stroke-linecap="round" />
<ellipse cx="75.8" cy="70.5" rx="6.3" ry="10.8" transform="rotate(-8 75.8 70.5)" fill="#fff" stroke="#111" stroke-width="2.2"/>
<path d="M69 81.7 C67.5 86, 66.8 91, 67.5 100" fill="none" stroke="#111" stroke-width="1.8" stroke-linejoin="round" stroke-linecap="round" />
<path d="M75 81 C76.5 85, 77.5 90, 79 96" fill="none" stroke="#111" stroke-width="1.8" stroke-linejoin="round" stroke-linecap="round" />
<path d="M80 88 C81.5 95, 83 103, 84.5 110 C85 114, 85.8 117, 86.3 119" fill="none" stroke="#111" stroke-width="2.2" stroke-linejoin="round" stroke-linecap="round" />
<path d="M83.5 91 C86 95, 87.5 100, 88.5 106" fill="none" stroke="#111" stroke-width="2" stroke-linejoin="round" stroke-linecap="round" /></g>
<g transform="matrix(0.97829 -0.11799 0.03776 1.03128 567.8997 227.8026)"><g transform="translate(203 0) scale(-1 1)"><path d="M76.6 51.5 C72 52.5, 68 54.5, 65 58 C62 62, 60.5 66, 60 71 C58 78, 55.5 88, 55 101 C59 102.5, 64 102.5, 68.5 101 C70 96, 72 90, 74 86 C77 80, 80 74, 81 68 L82 64 C84 63, 86 62.5, 88 62 L87 49 Z" fill="#fff" stroke="none" stroke-width="0" stroke-linejoin="round" stroke-linecap="round" />
<path d="M59.8 77 C57.2 81, 55 89, 54.8 100 L62 100.3 C64.5 95, 66 90, 66.2 85.5 C66.3 82, 65.3 80, 64 78.5 Z" fill="#d81f28" stroke="none" stroke-width="0" stroke-linejoin="round" stroke-linecap="round" />
<path d="M77.5 51 C70 52.8, 64.2 56.8, 61.6 63.5 C60.3 67, 59.8 71, 59.8 76 L66 78.5 C66.2 73, 67.8 68, 70.8 64.2 C73.3 61.2, 77 59.3, 81.5 58.3 Z" fill="#1a8a72" stroke="none" stroke-width="0" stroke-linejoin="round" stroke-linecap="round" />
<path d="M87 49 L76.6 51.5 C72 52.5, 68 54.5, 65 58 C62 62, 60.5 66, 60 71 C58 78, 55.5 88, 55 101" fill="none" stroke="#111" stroke-width="2.4" stroke-linejoin="round" stroke-linecap="round" />
<path d="M68.5 101 C70 96, 72 90, 74 86 C77 80, 80 74, 81 68 L82 64 C84 63, 86 62.5, 88 62" fill="none" stroke="#111" stroke-width="2.2" stroke-linejoin="round" stroke-linecap="round" />
<ellipse cx="75.8" cy="70.5" rx="6.3" ry="10.8" transform="rotate(-8 75.8 70.5)" fill="#fff" stroke="#111" stroke-width="2.2"/>
<path d="M69 81.7 C67.5 86, 66.8 91, 67.5 100" fill="none" stroke="#111" stroke-width="1.8" stroke-linejoin="round" stroke-linecap="round" />
<path d="M75 81 C76.5 85, 77.5 90, 79 96" fill="none" stroke="#111" stroke-width="1.8" stroke-linejoin="round" stroke-linecap="round" />
<path d="M80 88 C81.5 95, 83 103, 84.5 110 C85 114, 85.8 117, 86.3 119" fill="none" stroke="#111" stroke-width="2.2" stroke-linejoin="round" stroke-linecap="round" />
<path d="M83.5 91 C86 95, 87.5 100, 88.5 106" fill="none" stroke="#111" stroke-width="2" stroke-linejoin="round" stroke-linecap="round" /></g></g>
<path d="M621.5 314 C622 320, 626 327, 633 333 C641 340, 649 346, 656 351 C659 354, 661 358, 662 362.5 L676 362.5 C674 356, 671 350, 667 346 C660 340, 651 333, 644 326 C640 322, 637 318, 634.5 314 Z" fill="#fff" stroke="#111" stroke-width="2.2" stroke-linejoin="round" stroke-linecap="round" />
<path d="M622.5 317 C624 323, 628 328.5, 634 333.5 C641 339.5, 648 344.5, 653 348 L655.5 344 C650 340, 643.5 335, 637.5 329.5 C632.5 325, 629.5 321, 628.5 316 Z" fill="#e4e02c" stroke="none" stroke-width="0" stroke-linejoin="round" stroke-linecap="round" />
<path d="M621.5 314 C622 320, 626 327, 633 333 C641 340, 649 346, 656 351 C659 354, 661 358, 662 362.5 L676 362.5 C674 356, 671 350, 667 346 C660 340, 651 333, 644 326 C640 322, 637 318, 634.5 314 Z" fill="none" stroke="#111" stroke-width="2.2" stroke-linejoin="round" stroke-linecap="round" />
<path d="M718.8 315 C719 321, 716 327, 710 332.5 C703 338.5, 694 344, 686 348.5 C680 352, 674 356, 669 362.5 L656 362.5 C659 357, 664 352, 670 347 C677 341, 686 335, 694 329 C699 325, 703 320, 705 315 Z" fill="#fff" stroke="#111" stroke-width="2.2" stroke-linejoin="round" stroke-linecap="round" />
<path d="M718 317.5 C717.5 323, 714 328, 708.5 333 C702 338.5, 695 343, 688 347 L685.5 343 C692 339, 698.5 334.5, 703.5 330 C708 326, 711 321.5, 712 316.5 Z" fill="#e4e02c" stroke="none" stroke-width="0" stroke-linejoin="round" stroke-linecap="round" />
<path d="M718.8 315 C719 321, 716 327, 710 332.5 C703 338.5, 694 344, 686 348.5 C680 352, 674 356, 669 362.5 L656 362.5 C659 357, 664 352, 670 347 C677 341, 686 335, 694 329 C699 325, 703 320, 705 315 Z" fill="none" stroke="#111" stroke-width="2.2" stroke-linejoin="round" stroke-linecap="round" />
<path d="M664 352 C667 350, 671 350, 673 353" fill="none" stroke="#111" stroke-width="1.6" stroke-linejoin="round" stroke-linecap="round" />
<path d="M668.9 241.1 C680 241.1, 683.1 246.3, 683.1 258.6 C683.1 268.7, 677.7 277.9, 668.9 277.9 C660.1 277.9, 654.7 268.7, 654.7 258.6 C654.7 246.3, 657.8 241.1, 668.9 241.1 Z" fill="#fff" stroke="#111" stroke-width="2.4"/></g>
<g id="boards">
<path d="M24.5 155.5 L177 155.5 L184 160 L184 167.5 L18.5 167.5 L18.5 160 Z" fill="#b5161f" stroke="none" stroke-width="0" stroke-linejoin="round" />
<rect x="19.5" y="162" width="163.5" height="4" fill="#d42a33"/>
<rect x="18.5" y="159.5" width="165.5" height="1.6" fill="#8e0f18"/>
<rect x="18.5" y="166.3" width="165.5" height="1.2" fill="#7a0c14"/>
<path d="M24.5 155.5 L177 155.5 L178 156.3 L23.5 156.3 Z" fill="#9a1a22" stroke="none" stroke-width="0" stroke-linejoin="round" />
<rect x="182" y="159.5" width="2" height="8" fill="#6a0c12" opacity="0.85"/>
<rect x="18.5" y="159.5" width="1.8" height="8" fill="#6a0c12" opacity="0.75"/>
<path d="M214.5 155.5 L365.8 155.5 L372.8 160 L372.8 167.3 L208.5 167.3 L208.5 160 Z" fill="#b5161f" stroke="none" stroke-width="0" stroke-linejoin="round" />
<rect x="209.5" y="162" width="162.3" height="3.8" fill="#d42a33"/>
<rect x="208.5" y="159.5" width="164.3" height="1.6" fill="#8e0f18"/>
<rect x="208.5" y="166.1" width="164.3" height="1.2" fill="#7a0c14"/>
<path d="M214.5 155.5 L365.8 155.5 L366.8 156.3 L213.5 156.3 Z" fill="#9a1a22" stroke="none" stroke-width="0" stroke-linejoin="round" />
<rect x="370.8" y="159.5" width="2" height="7.8" fill="#6a0c12" opacity="0.85"/>
<rect x="208.5" y="159.5" width="1.8" height="7.8" fill="#6a0c12" opacity="0.75"/>
<path d="M402.2 155.5 L553.3 155.5 L560.3 160 L560.3 167.3 L396.2 167.3 L396.2 160 Z" fill="#b5161f" stroke="none" stroke-width="0" stroke-linejoin="round" />
<rect x="397.2" y="162" width="162.1" height="3.8" fill="#d42a33"/>
<rect x="396.2" y="159.5" width="164.1" height="1.6" fill="#8e0f18"/>
<rect x="396.2" y="166.1" width="164.1" height="1.2" fill="#7a0c14"/>
<path d="M402.2 155.5 L553.3 155.5 L554.3 156.3 L401.2 156.3 Z" fill="#9a1a22" stroke="none" stroke-width="0" stroke-linejoin="round" />
<rect x="558.3" y="159.5" width="2" height="7.8" fill="#6a0c12" opacity="0.85"/>
<rect x="396.2" y="159.5" width="1.8" height="7.8" fill="#6a0c12" opacity="0.75"/>
<path d="M590 155.2 L741.1 155.2 L748.1 159.7 L748.1 166.8 L584 166.8 L584 159.7 Z" fill="#b5161f" stroke="none" stroke-width="0" stroke-linejoin="round" />
<rect x="585" y="161.7" width="162.1" height="3.6" fill="#d42a33"/>
<rect x="584" y="159.2" width="164.1" height="1.6" fill="#8e0f18"/>
<rect x="584" y="165.6" width="164.1" height="1.2" fill="#7a0c14"/>
<path d="M590 155.2 L741.1 155.2 L742.1 156 L589 156 Z" fill="#9a1a22" stroke="none" stroke-width="0" stroke-linejoin="round" />
<rect x="746.1" y="159.2" width="2" height="7.6" fill="#6a0c12" opacity="0.85"/>
<rect x="584" y="159.2" width="1.8" height="7.6" fill="#6a0c12" opacity="0.75"/>
<path d="M22.8 365 L174.2 365 L181.2 369.5 L181.2 377.3 L16.8 377.3 L16.8 369.5 Z" fill="#b5161f" stroke="none" stroke-width="0" stroke-linejoin="round" />
<rect x="17.8" y="371.5" width="162.4" height="4.3" fill="#d42a33"/>
<rect x="16.8" y="369" width="164.4" height="1.6" fill="#8e0f18"/>
<rect x="16.8" y="376.1" width="164.4" height="1.2" fill="#7a0c14"/>
<path d="M22.8 365 L174.2 365 L175.2 365.8 L21.8 365.8 Z" fill="#9a1a22" stroke="none" stroke-width="0" stroke-linejoin="round" />
<rect x="179.2" y="369" width="2" height="8.3" fill="#6a0c12" opacity="0.85"/>
<rect x="16.8" y="369" width="1.8" height="8.3" fill="#6a0c12" opacity="0.75"/>
<path d="M213.4 364.7 L364.5 364.7 L371.5 369.2 L371.5 376.5 L207.4 376.5 L207.4 369.2 Z" fill="#b5161f" stroke="none" stroke-width="0" stroke-linejoin="round" />
<rect x="208.4" y="371.2" width="162.1" height="3.8" fill="#d42a33"/>
<rect x="207.4" y="368.7" width="164.1" height="1.6" fill="#8e0f18"/>
<rect x="207.4" y="375.3" width="164.1" height="1.2" fill="#7a0c14"/>
<path d="M213.4 364.7 L364.5 364.7 L365.5 365.5 L212.4 365.5 Z" fill="#9a1a22" stroke="none" stroke-width="0" stroke-linejoin="round" />
<rect x="369.5" y="368.7" width="2" height="7.8" fill="#6a0c12" opacity="0.85"/>
<rect x="207.4" y="368.7" width="1.8" height="7.8" fill="#6a0c12" opacity="0.75"/>
<path d="M401.4 364.7 L552.8 364.7 L559.8 369.2 L559.8 376.8 L395.4 376.8 L395.4 369.2 Z" fill="#b5161f" stroke="none" stroke-width="0" stroke-linejoin="round" />
<rect x="396.4" y="371.2" width="162.4" height="4.1" fill="#d42a33"/>
<rect x="395.4" y="368.7" width="164.4" height="1.6" fill="#8e0f18"/>
<rect x="395.4" y="375.6" width="164.4" height="1.2" fill="#7a0c14"/>
<path d="M401.4 364.7 L552.8 364.7 L553.8 365.5 L400.4 365.5 Z" fill="#9a1a22" stroke="none" stroke-width="0" stroke-linejoin="round" />
<rect x="557.8" y="368.7" width="2" height="8.1" fill="#6a0c12" opacity="0.85"/>
<rect x="395.4" y="368.7" width="1.8" height="8.1" fill="#6a0c12" opacity="0.75"/>
<path d="M589.6 365.2 L740.2 365.2 L747.2 369.7 L747.2 376.8 L583.6 376.8 L583.6 369.7 Z" fill="#b5161f" stroke="none" stroke-width="0" stroke-linejoin="round" />
<rect x="584.6" y="371.7" width="161.6" height="3.6" fill="#d42a33"/>
<rect x="583.6" y="369.2" width="163.6" height="1.6" fill="#8e0f18"/>
<rect x="583.6" y="375.6" width="163.6" height="1.2" fill="#7a0c14"/>
<path d="M589.6 365.2 L740.2 365.2 L741.2 366 L588.6 366 Z" fill="#9a1a22" stroke="none" stroke-width="0" stroke-linejoin="round" />
<rect x="745.2" y="369.2" width="2" height="7.6" fill="#6a0c12" opacity="0.85"/>
<rect x="583.6" y="369.2" width="1.8" height="7.6" fill="#6a0c12" opacity="0.75"/>
<rect x="19.2" y="173.4" width="164.5" height="28.6" rx="2.8" fill="#fff" stroke="#444" stroke-width="2.1"/>
<circle cx="58.8" cy="181.1" r="2.1" fill="#111"/>
<rect x="57.7" y="175.8" width="2.2" height="1.3" fill="#333"/>
<path d="M54.4 189.5 l1.4 -1.6" stroke="#888" stroke-width="1.2" stroke-linecap="round"/>
<circle cx="67.2" cy="181.1" r="2.1" fill="#111"/>
<rect x="66.1" y="175.8" width="2.2" height="1.3" fill="#333"/>
<path d="M62.8 189.5 l1.4 -1.6" stroke="#888" stroke-width="1.2" stroke-linecap="round"/>
<circle cx="83.3" cy="181.1" r="2.1" fill="#111"/>
<rect x="82.2" y="175.8" width="2.2" height="1.3" fill="#333"/>
<path d="M78.9 189.5 l1.4 -1.6" stroke="#888" stroke-width="1.2" stroke-linecap="round"/>
<circle cx="119.5" cy="181.1" r="2.1" fill="#111"/>
<rect x="118.4" y="175.8" width="2.2" height="1.3" fill="#333"/>
<path d="M115.1 189.5 l1.4 -1.6" stroke="#888" stroke-width="1.2" stroke-linecap="round"/>
<circle cx="135.8" cy="181.1" r="2.1" fill="#111"/>
<rect x="134.7" y="175.8" width="2.2" height="1.3" fill="#333"/>
<path d="M131.4 189.5 l1.4 -1.6" stroke="#888" stroke-width="1.2" stroke-linecap="round"/>
<circle cx="144.2" cy="181.1" r="2.1" fill="#111"/>
<rect x="143.1" y="175.8" width="2.2" height="1.3" fill="#333"/>
<path d="M139.8 189.5 l1.4 -1.6" stroke="#888" stroke-width="1.2" stroke-linecap="round"/>
<circle cx="27.1" cy="195.1" r="2.1" fill="#111"/>
<rect x="26.2" y="198.7" width="1.8" height="1.4" fill="#999"/>
<path d="M29.3 189.5 l1.4 -1.6" stroke="#777" stroke-width="1.3" stroke-linecap="round"/>
<circle cx="35.8" cy="195.1" r="2.1" fill="#111"/>
<rect x="34.9" y="198.7" width="1.8" height="1.4" fill="#999"/>
<path d="M38 189.5 l1.4 -1.6" stroke="#777" stroke-width="1.3" stroke-linecap="round"/>
<circle cx="167.2" cy="195.1" r="2.1" fill="#111"/>
<rect x="166.3" y="198.7" width="1.8" height="1.4" fill="#999"/>
<path d="M169.4 189.5 l1.4 -1.6" stroke="#777" stroke-width="1.3" stroke-linecap="round"/>
<circle cx="175.9" cy="195.1" r="2.1" fill="#111"/>
<rect x="175" y="198.7" width="1.8" height="1.4" fill="#999"/>
<path d="M178.1 189.5 l1.4 -1.6" stroke="#777" stroke-width="1.3" stroke-linecap="round"/>
<line x1="92.6" y1="181.9" x2="83.5" y2="198.3" stroke="#1a1a1a" stroke-width="4.6" stroke-linecap="round"/>
<ellipse cx="87.6" cy="190.9" rx="4.9" ry="3" transform="rotate(119.0 87.6 190.9)" fill="#1a1a1a"/>
<circle cx="92.6" cy="181.9" r="5" fill="#6a0d1a" opacity="0.3"/>
<circle cx="92.6" cy="181.9" r="3.1" fill="#6a0d1a"/>
<line x1="110.2" y1="181.9" x2="120" y2="198.3" stroke="#1a1a1a" stroke-width="4.6" stroke-linecap="round"/>
<ellipse cx="115.6" cy="190.9" rx="5" ry="3" transform="rotate(59.1 115.6 190.9)" fill="#1a1a1a"/>
<circle cx="110.2" cy="181.9" r="5" fill="#6a0d1a" opacity="0.3"/>
<circle cx="110.2" cy="181.9" r="3.1" fill="#6a0d1a"/>
<rect x="95.5" y="191.5" width="11" height="1.2" fill="#777"/>
<rect x="94" y="193.3" width="15" height="4.4" rx="0.6" fill="#505050"/>
<rect x="96.4" y="194" width="0.7" height="3" fill="#bbb"/>
<rect x="98.9" y="194" width="0.7" height="3" fill="#bbb"/>
<rect x="101.4" y="194" width="0.7" height="3" fill="#bbb"/>
<rect x="103.9" y="194" width="0.7" height="3" fill="#bbb"/>
<rect x="106.4" y="194" width="0.7" height="3" fill="#bbb"/>

<rect x="208.5" y="173.4" width="163.1" height="28.2" rx="2.8" fill="#fff" stroke="#444" stroke-width="2.1"/>
<circle cx="247.3" cy="181.1" r="2.1" fill="#111"/>
<rect x="246.2" y="175.8" width="2.2" height="1.3" fill="#333"/>
<path d="M242.9 189.5 l1.4 -1.6" stroke="#888" stroke-width="1.2" stroke-linecap="round"/>
<circle cx="255.7" cy="181.1" r="2.1" fill="#111"/>
<rect x="254.6" y="175.8" width="2.2" height="1.3" fill="#333"/>
<path d="M251.3 189.5 l1.4 -1.6" stroke="#888" stroke-width="1.2" stroke-linecap="round"/>
<circle cx="281.8" cy="181.1" r="2.1" fill="#111"/>
<rect x="280.7" y="175.8" width="2.2" height="1.3" fill="#333"/>
<path d="M277.4 189.5 l1.4 -1.6" stroke="#888" stroke-width="1.2" stroke-linecap="round"/>
<circle cx="298" cy="181.1" r="2.1" fill="#111"/>
<rect x="296.9" y="175.8" width="2.2" height="1.3" fill="#333"/>
<path d="M293.6 189.5 l1.4 -1.6" stroke="#888" stroke-width="1.2" stroke-linecap="round"/>
<circle cx="324" cy="181.1" r="2.1" fill="#111"/>
<rect x="322.9" y="175.8" width="2.2" height="1.3" fill="#333"/>
<path d="M319.6 189.5 l1.4 -1.6" stroke="#888" stroke-width="1.2" stroke-linecap="round"/>
<circle cx="332.3" cy="181.1" r="2.1" fill="#111"/>
<rect x="331.2" y="175.8" width="2.2" height="1.3" fill="#333"/>
<path d="M327.9 189.5 l1.4 -1.6" stroke="#888" stroke-width="1.2" stroke-linecap="round"/>
<circle cx="216.1" cy="195.1" r="2.1" fill="#111"/>
<rect x="215.2" y="198.7" width="1.8" height="1.4" fill="#999"/>
<path d="M218.3 189.5 l1.4 -1.6" stroke="#777" stroke-width="1.3" stroke-linecap="round"/>
<circle cx="224.6" cy="195.1" r="2.1" fill="#111"/>
<rect x="223.7" y="198.7" width="1.8" height="1.4" fill="#999"/>
<path d="M226.8 189.5 l1.4 -1.6" stroke="#777" stroke-width="1.3" stroke-linecap="round"/>
<circle cx="355.2" cy="195.1" r="2.1" fill="#111"/>
<rect x="354.3" y="198.7" width="1.8" height="1.4" fill="#999"/>
<path d="M357.4 189.5 l1.4 -1.6" stroke="#777" stroke-width="1.3" stroke-linecap="round"/>
<circle cx="363.4" cy="195.1" r="2.1" fill="#111"/>
<rect x="362.5" y="198.7" width="1.8" height="1.4" fill="#999"/>
<path d="M365.6 189.5 l1.4 -1.6" stroke="#777" stroke-width="1.3" stroke-linecap="round"/>
<line x1="266.2" y1="177.8" x2="275.6" y2="196.5" stroke="#1a1a1a" stroke-width="4.6" stroke-linecap="round"/>
<ellipse cx="271.4" cy="188.1" rx="5.4" ry="3" transform="rotate(63.3 271.4 188.1)" fill="#1a1a1a"/>
<circle cx="275.6" cy="196.5" r="5" fill="#0e6b5a" opacity="0.3"/>
<circle cx="275.6" cy="196.5" r="3.1" fill="#0e6b5a"/>
<line x1="313.6" y1="177.8" x2="303.1" y2="196.5" stroke="#1a1a1a" stroke-width="4.6" stroke-linecap="round"/>
<ellipse cx="307.8" cy="188.1" rx="5.6" ry="3" transform="rotate(119.3 307.8 188.1)" fill="#1a1a1a"/>
<circle cx="303.1" cy="196.5" r="5" fill="#0e6b5a" opacity="0.3"/>
<circle cx="303.1" cy="196.5" r="3.1" fill="#0e6b5a"/>
<rect x="283.5" y="191.5" width="11" height="1.2" fill="#777"/>
<rect x="282" y="193.3" width="15" height="4.4" rx="0.6" fill="#505050"/>
<rect x="284.4" y="194" width="0.7" height="3" fill="#bbb"/>
<rect x="286.9" y="194" width="0.7" height="3" fill="#bbb"/>
<rect x="289.4" y="194" width="0.7" height="3" fill="#bbb"/>
<rect x="291.9" y="194" width="0.7" height="3" fill="#bbb"/>
<rect x="294.4" y="194" width="0.7" height="3" fill="#bbb"/>

<rect x="397.2" y="173.6" width="162.5" height="28.4" rx="2.8" fill="#fff" stroke="#444" stroke-width="2.1"/>
<circle cx="435.3" cy="181.3" r="2.1" fill="#111"/>
<rect x="434.2" y="176" width="2.2" height="1.3" fill="#333"/>
<path d="M430.9 189.7 l1.4 -1.6" stroke="#888" stroke-width="1.2" stroke-linecap="round"/>
<circle cx="444.2" cy="181.3" r="2.1" fill="#111"/>
<rect x="443.1" y="176" width="2.2" height="1.3" fill="#333"/>
<path d="M439.8 189.7 l1.4 -1.6" stroke="#888" stroke-width="1.2" stroke-linecap="round"/>
<circle cx="469.8" cy="181.3" r="2.1" fill="#111"/>
<rect x="468.7" y="176" width="2.2" height="1.3" fill="#333"/>
<path d="M465.4 189.7 l1.4 -1.6" stroke="#888" stroke-width="1.2" stroke-linecap="round"/>
<circle cx="486" cy="181.3" r="2.1" fill="#111"/>
<rect x="484.9" y="176" width="2.2" height="1.3" fill="#333"/>
<path d="M481.6 189.7 l1.4 -1.6" stroke="#888" stroke-width="1.2" stroke-linecap="round"/>
<circle cx="512" cy="181.3" r="2.1" fill="#111"/>
<rect x="510.9" y="176" width="2.2" height="1.3" fill="#333"/>
<path d="M507.6 189.7 l1.4 -1.6" stroke="#888" stroke-width="1.2" stroke-linecap="round"/>
<circle cx="520.3" cy="181.3" r="2.1" fill="#111"/>
<rect x="519.2" y="176" width="2.2" height="1.3" fill="#333"/>
<path d="M515.9 189.7 l1.4 -1.6" stroke="#888" stroke-width="1.2" stroke-linecap="round"/>
<circle cx="404.1" cy="195.3" r="2.1" fill="#111"/>
<rect x="403.2" y="198.9" width="1.8" height="1.4" fill="#999"/>
<path d="M406.3 189.7 l1.4 -1.6" stroke="#777" stroke-width="1.3" stroke-linecap="round"/>
<circle cx="412.6" cy="195.3" r="2.1" fill="#111"/>
<rect x="411.7" y="198.9" width="1.8" height="1.4" fill="#999"/>
<path d="M414.8 189.7 l1.4 -1.6" stroke="#777" stroke-width="1.3" stroke-linecap="round"/>
<circle cx="464.6" cy="195.3" r="2.1" fill="#111"/>
<rect x="463.7" y="198.9" width="1.8" height="1.4" fill="#999"/>
<path d="M466.8 189.7 l1.4 -1.6" stroke="#777" stroke-width="1.3" stroke-linecap="round"/>
<circle cx="490.9" cy="195.3" r="2.1" fill="#111"/>
<rect x="490" y="198.9" width="1.8" height="1.4" fill="#999"/>
<path d="M493.1 189.7 l1.4 -1.6" stroke="#777" stroke-width="1.3" stroke-linecap="round"/>
<circle cx="543.2" cy="195.3" r="2.1" fill="#111"/>
<rect x="542.3" y="198.9" width="1.8" height="1.4" fill="#999"/>
<path d="M545.4 189.7 l1.4 -1.6" stroke="#777" stroke-width="1.3" stroke-linecap="round"/>
<circle cx="551.4" cy="195.3" r="2.1" fill="#111"/>
<rect x="550.5" y="198.9" width="1.8" height="1.4" fill="#999"/>
<path d="M553.6 189.7 l1.4 -1.6" stroke="#777" stroke-width="1.3" stroke-linecap="round"/>
<line x1="459.3" y1="181" x2="449.7" y2="198.3" stroke="#1a1a1a" stroke-width="4.6" stroke-linecap="round"/>
<ellipse cx="454" cy="190.5" rx="5.1" ry="3" transform="rotate(119.0 454 190.5)" fill="#1a1a1a"/>
<circle cx="459.3" cy="181" r="5" fill="#c77a1a" opacity="0.3"/>
<circle cx="459.3" cy="181" r="3.1" fill="#c77a1a"/>
<line x1="496.5" y1="181" x2="506.5" y2="198.3" stroke="#1a1a1a" stroke-width="4.6" stroke-linecap="round"/>
<ellipse cx="502" cy="190.5" rx="5.2" ry="3" transform="rotate(60.0 502 190.5)" fill="#1a1a1a"/>
<circle cx="496.5" cy="181" r="5" fill="#c77a1a" opacity="0.3"/>
<circle cx="496.5" cy="181" r="3.1" fill="#c77a1a"/>
<rect x="470" y="191.5" width="11" height="1.2" fill="#777"/>
<rect x="468.5" y="193.3" width="15" height="4.4" rx="0.6" fill="#505050"/>
<rect x="470.9" y="194" width="0.7" height="3" fill="#bbb"/>
<rect x="473.4" y="194" width="0.7" height="3" fill="#bbb"/>
<rect x="475.9" y="194" width="0.7" height="3" fill="#bbb"/>
<rect x="478.4" y="194" width="0.7" height="3" fill="#bbb"/>
<rect x="480.9" y="194" width="0.7" height="3" fill="#bbb"/>

<rect x="585.5" y="173.9" width="162" height="27.9" rx="2.8" fill="#fff" stroke="#444" stroke-width="2.1"/>
<circle cx="624" cy="181.6" r="2.1" fill="#111"/>
<rect x="622.9" y="176.3" width="2.2" height="1.3" fill="#333"/>
<path d="M619.6 190 l1.4 -1.6" stroke="#888" stroke-width="1.2" stroke-linecap="round"/>
<circle cx="648.5" cy="181.6" r="2.1" fill="#111"/>
<rect x="647.4" y="176.3" width="2.2" height="1.3" fill="#333"/>
<path d="M644.1 190 l1.4 -1.6" stroke="#888" stroke-width="1.2" stroke-linecap="round"/>
<circle cx="658.3" cy="181.6" r="2.1" fill="#111"/>
<rect x="657.2" y="176.3" width="2.2" height="1.3" fill="#333"/>
<path d="M653.9 190 l1.4 -1.6" stroke="#888" stroke-width="1.2" stroke-linecap="round"/>
<circle cx="673.5" cy="181.6" r="2.1" fill="#111"/>
<rect x="672.4" y="176.3" width="2.2" height="1.3" fill="#333"/>
<path d="M669.1 190 l1.4 -1.6" stroke="#888" stroke-width="1.2" stroke-linecap="round"/>
<circle cx="683.5" cy="181.6" r="2.1" fill="#111"/>
<rect x="682.4" y="176.3" width="2.2" height="1.3" fill="#333"/>
<path d="M679.1 190 l1.4 -1.6" stroke="#888" stroke-width="1.2" stroke-linecap="round"/>
<circle cx="708.6" cy="181.6" r="2.1" fill="#111"/>
<rect x="707.5" y="176.3" width="2.2" height="1.3" fill="#333"/>
<path d="M704.2 190 l1.4 -1.6" stroke="#888" stroke-width="1.2" stroke-linecap="round"/>
<circle cx="592.2" cy="195.6" r="2.1" fill="#111"/>
<rect x="591.3" y="199.2" width="1.8" height="1.4" fill="#999"/>
<path d="M594.4 190 l1.4 -1.6" stroke="#777" stroke-width="1.3" stroke-linecap="round"/>
<circle cx="601.1" cy="195.6" r="2.1" fill="#111"/>
<rect x="600.2" y="199.2" width="1.8" height="1.4" fill="#999"/>
<path d="M603.3 190 l1.4 -1.6" stroke="#777" stroke-width="1.3" stroke-linecap="round"/>
<circle cx="653.4" cy="195.6" r="2.1" fill="#111"/>
<rect x="652.5" y="199.2" width="1.8" height="1.4" fill="#999"/>
<path d="M655.6 190 l1.4 -1.6" stroke="#777" stroke-width="1.3" stroke-linecap="round"/>
<circle cx="679.7" cy="195.6" r="2.1" fill="#111"/>
<rect x="678.8" y="199.2" width="1.8" height="1.4" fill="#999"/>
<path d="M681.9 190 l1.4 -1.6" stroke="#777" stroke-width="1.3" stroke-linecap="round"/>
<circle cx="731.3" cy="195.6" r="2.1" fill="#111"/>
<rect x="730.4" y="199.2" width="1.8" height="1.4" fill="#999"/>
<path d="M733.5 190 l1.4 -1.6" stroke="#777" stroke-width="1.3" stroke-linecap="round"/>
<circle cx="739.8" cy="195.6" r="2.1" fill="#111"/>
<rect x="738.9" y="199.2" width="1.8" height="1.4" fill="#999"/>
<path d="M742 190 l1.4 -1.6" stroke="#777" stroke-width="1.3" stroke-linecap="round"/>
<line x1="631.6" y1="181" x2="621.2" y2="198.3" stroke="#1a1a1a" stroke-width="4.6" stroke-linecap="round"/>
<ellipse cx="625.9" cy="190.5" rx="5.2" ry="3" transform="rotate(121.0 625.9 190.5)" fill="#1a1a1a"/>
<circle cx="631.6" cy="181" r="5" fill="#1aa7c8" opacity="0.3"/>
<circle cx="631.6" cy="181" r="3.1" fill="#1aa7c8"/>
<line x1="701.3" y1="181" x2="712.4" y2="198.3" stroke="#1a1a1a" stroke-width="4.6" stroke-linecap="round"/>
<ellipse cx="707.4" cy="190.5" rx="5.3" ry="3" transform="rotate(57.3 707.4 190.5)" fill="#1a1a1a"/>
<circle cx="701.3" cy="181" r="5" fill="#1aa7c8" opacity="0.3"/>
<circle cx="701.3" cy="181" r="3.1" fill="#1aa7c8"/>
<rect x="659.5" y="191.5" width="11" height="1.2" fill="#777"/>
<rect x="658" y="193.3" width="15" height="4.4" rx="0.6" fill="#505050"/>
<rect x="660.4" y="194" width="0.7" height="3" fill="#bbb"/>
<rect x="662.9" y="194" width="0.7" height="3" fill="#bbb"/>
<rect x="665.4" y="194" width="0.7" height="3" fill="#bbb"/>
<rect x="667.9" y="194" width="0.7" height="3" fill="#bbb"/>
<rect x="670.4" y="194" width="0.7" height="3" fill="#bbb"/>

<rect x="18.4" y="384.4" width="162.6" height="28.3" rx="2.8" fill="#fff" stroke="#444" stroke-width="2.1"/>
<circle cx="66" cy="392.1" r="2.1" fill="#111"/>
<rect x="64.9" y="386.8" width="2.2" height="1.3" fill="#333"/>
<path d="M61.6 400.5 l1.4 -1.6" stroke="#888" stroke-width="1.2" stroke-linecap="round"/>
<circle cx="82" cy="392.1" r="2.1" fill="#111"/>
<rect x="80.9" y="386.8" width="2.2" height="1.3" fill="#333"/>
<path d="M77.6 400.5 l1.4 -1.6" stroke="#888" stroke-width="1.2" stroke-linecap="round"/>
<circle cx="92" cy="392.1" r="2.1" fill="#111"/>
<rect x="90.9" y="386.8" width="2.2" height="1.3" fill="#333"/>
<path d="M87.6 400.5 l1.4 -1.6" stroke="#888" stroke-width="1.2" stroke-linecap="round"/>
<circle cx="107.6" cy="392.1" r="2.1" fill="#111"/>
<rect x="106.5" y="386.8" width="2.2" height="1.3" fill="#333"/>
<path d="M103.2 400.5 l1.4 -1.6" stroke="#888" stroke-width="1.2" stroke-linecap="round"/>
<circle cx="117.6" cy="392.1" r="2.1" fill="#111"/>
<rect x="116.5" y="386.8" width="2.2" height="1.3" fill="#333"/>
<path d="M113.2 400.5 l1.4 -1.6" stroke="#888" stroke-width="1.2" stroke-linecap="round"/>
<circle cx="134.3" cy="392.1" r="2.1" fill="#111"/>
<rect x="133.2" y="386.8" width="2.2" height="1.3" fill="#333"/>
<path d="M129.9 400.5 l1.4 -1.6" stroke="#888" stroke-width="1.2" stroke-linecap="round"/>
<circle cx="25.9" cy="406.1" r="2.1" fill="#111"/>
<rect x="25" y="409.7" width="1.8" height="1.4" fill="#999"/>
<path d="M28.1 400.5 l1.4 -1.6" stroke="#777" stroke-width="1.3" stroke-linecap="round"/>
<circle cx="34.6" cy="406.1" r="2.1" fill="#111"/>
<rect x="33.7" y="409.7" width="1.8" height="1.4" fill="#999"/>
<path d="M36.8 400.5 l1.4 -1.6" stroke="#777" stroke-width="1.3" stroke-linecap="round"/>
<circle cx="87.1" cy="406.1" r="2.1" fill="#111"/>
<rect x="86.2" y="409.7" width="1.8" height="1.4" fill="#999"/>
<path d="M89.3 400.5 l1.4 -1.6" stroke="#777" stroke-width="1.3" stroke-linecap="round"/>
<circle cx="113.1" cy="406.1" r="2.1" fill="#111"/>
<rect x="112.2" y="409.7" width="1.8" height="1.4" fill="#999"/>
<path d="M115.3 400.5 l1.4 -1.6" stroke="#777" stroke-width="1.3" stroke-linecap="round"/>
<circle cx="165" cy="406.1" r="2.1" fill="#111"/>
<rect x="164.1" y="409.7" width="1.8" height="1.4" fill="#999"/>
<path d="M167.2 400.5 l1.4 -1.6" stroke="#777" stroke-width="1.3" stroke-linecap="round"/>
<circle cx="173.7" cy="406.1" r="2.1" fill="#111"/>
<rect x="172.8" y="409.7" width="1.8" height="1.4" fill="#999"/>
<path d="M175.9 400.5 l1.4 -1.6" stroke="#777" stroke-width="1.3" stroke-linecap="round"/>
<line x1="55.7" y1="392" x2="46.4" y2="409" stroke="#1a1a1a" stroke-width="4.6" stroke-linecap="round"/>
<ellipse cx="50.6" cy="401.4" rx="5" ry="3" transform="rotate(118.7 50.6 401.4)" fill="#1a1a1a"/>
<circle cx="55.7" cy="392" r="5" fill="#1a8fb8" opacity="0.3"/>
<circle cx="55.7" cy="392" r="3.1" fill="#1a8fb8"/>
<line x1="143.2" y1="392" x2="153.2" y2="409" stroke="#1a1a1a" stroke-width="4.6" stroke-linecap="round"/>
<ellipse cx="148.7" cy="401.4" rx="5.1" ry="3" transform="rotate(59.5 148.7 401.4)" fill="#1a1a1a"/>
<circle cx="143.2" cy="392" r="5" fill="#1a8fb8" opacity="0.3"/>
<circle cx="143.2" cy="392" r="3.1" fill="#1a8fb8"/>
<rect x="93.8" y="401.5" width="11" height="1.2" fill="#777"/>
<rect x="92.3" y="403.3" width="15" height="4.4" rx="0.6" fill="#505050"/>
<rect x="94.7" y="404" width="0.7" height="3" fill="#bbb"/>
<rect x="97.2" y="404" width="0.7" height="3" fill="#bbb"/>
<rect x="99.7" y="404" width="0.7" height="3" fill="#bbb"/>
<rect x="102.2" y="404" width="0.7" height="3" fill="#bbb"/>
<rect x="104.7" y="404" width="0.7" height="3" fill="#bbb"/>

<rect x="208.1" y="384.8" width="162.9" height="28.2" rx="2.8" fill="#fff" stroke="#444" stroke-width="2.1"/>
<circle cx="247.4" cy="392.5" r="2.1" fill="#111"/>
<rect x="246.3" y="387.2" width="2.2" height="1.3" fill="#333"/>
<path d="M243 400.9 l1.4 -1.6" stroke="#888" stroke-width="1.2" stroke-linecap="round"/>
<circle cx="255.6" cy="392.5" r="2.1" fill="#111"/>
<rect x="254.5" y="387.2" width="2.2" height="1.3" fill="#333"/>
<path d="M251.2 400.9 l1.4 -1.6" stroke="#888" stroke-width="1.2" stroke-linecap="round"/>
<circle cx="271.9" cy="392.5" r="2.1" fill="#111"/>
<rect x="270.8" y="387.2" width="2.2" height="1.3" fill="#333"/>
<path d="M267.5 400.9 l1.4 -1.6" stroke="#888" stroke-width="1.2" stroke-linecap="round"/>
<circle cx="281.9" cy="392.5" r="2.1" fill="#111"/>
<rect x="280.8" y="387.2" width="2.2" height="1.3" fill="#333"/>
<path d="M277.5 400.9 l1.4 -1.6" stroke="#888" stroke-width="1.2" stroke-linecap="round"/>
<circle cx="297.5" cy="392.5" r="2.1" fill="#111"/>
<rect x="296.4" y="387.2" width="2.2" height="1.3" fill="#333"/>
<path d="M293.1 400.9 l1.4 -1.6" stroke="#888" stroke-width="1.2" stroke-linecap="round"/>
<circle cx="307.5" cy="392.5" r="2.1" fill="#111"/>
<rect x="306.4" y="387.2" width="2.2" height="1.3" fill="#333"/>
<path d="M303.1 400.9 l1.4 -1.6" stroke="#888" stroke-width="1.2" stroke-linecap="round"/>
<circle cx="324.2" cy="392.5" r="2.1" fill="#111"/>
<rect x="323.1" y="387.2" width="2.2" height="1.3" fill="#333"/>
<path d="M319.8 400.9 l1.4 -1.6" stroke="#888" stroke-width="1.2" stroke-linecap="round"/>
<circle cx="332.6" cy="392.5" r="2.1" fill="#111"/>
<rect x="331.5" y="387.2" width="2.2" height="1.3" fill="#333"/>
<path d="M328.2 400.9 l1.4 -1.6" stroke="#888" stroke-width="1.2" stroke-linecap="round"/>
<circle cx="215.6" cy="406.5" r="2.1" fill="#111"/>
<rect x="214.7" y="410.1" width="1.8" height="1.4" fill="#999"/>
<path d="M217.8 400.9 l1.4 -1.6" stroke="#777" stroke-width="1.3" stroke-linecap="round"/>
<circle cx="277" cy="406.5" r="2.1" fill="#111"/>
<rect x="276.1" y="410.1" width="1.8" height="1.4" fill="#999"/>
<path d="M279.2 400.9 l1.4 -1.6" stroke="#777" stroke-width="1.3" stroke-linecap="round"/>
<circle cx="303" cy="406.5" r="2.1" fill="#111"/>
<rect x="302.1" y="410.1" width="1.8" height="1.4" fill="#999"/>
<path d="M305.2 400.9 l1.4 -1.6" stroke="#777" stroke-width="1.3" stroke-linecap="round"/>
<circle cx="363.8" cy="406.5" r="2.1" fill="#111"/>
<rect x="362.9" y="410.1" width="1.8" height="1.4" fill="#999"/>
<path d="M366 400.9 l1.4 -1.6" stroke="#777" stroke-width="1.3" stroke-linecap="round"/>
<line x1="232.9" y1="388.5" x2="225.1" y2="405" stroke="#1a1a1a" stroke-width="4.6" stroke-linecap="round"/>
<ellipse cx="228.6" cy="397.6" rx="4.7" ry="3" transform="rotate(115.3 228.6 397.6)" fill="#1a1a1a"/>
<circle cx="225.1" cy="405" r="5" fill="#5a1a4a" opacity="0.3"/>
<circle cx="225.1" cy="405" r="3.1" fill="#5a1a4a"/>
<line x1="344.2" y1="388.5" x2="352.6" y2="405" stroke="#1a1a1a" stroke-width="4.6" stroke-linecap="round"/>
<ellipse cx="348.8" cy="397.6" rx="4.8" ry="3" transform="rotate(63.0 348.8 397.6)" fill="#1a1a1a"/>
<circle cx="352.6" cy="405" r="5" fill="#5a1a4a" opacity="0.3"/>
<circle cx="352.6" cy="405" r="3.1" fill="#5a1a4a"/>
<rect x="283.5" y="401.5" width="11" height="1.2" fill="#777"/>
<rect x="282" y="403.3" width="15" height="4.4" rx="0.6" fill="#505050"/>
<rect x="284.4" y="404" width="0.7" height="3" fill="#bbb"/>
<rect x="286.9" y="404" width="0.7" height="3" fill="#bbb"/>
<rect x="289.4" y="404" width="0.7" height="3" fill="#bbb"/>
<rect x="291.9" y="404" width="0.7" height="3" fill="#bbb"/>
<rect x="294.4" y="404" width="0.7" height="3" fill="#bbb"/>

<rect x="396.8" y="384.8" width="163" height="28.6" rx="2.8" fill="#fff" stroke="#444" stroke-width="2.1"/>
<circle cx="435.4" cy="392.5" r="2.1" fill="#111"/>
<rect x="434.3" y="387.2" width="2.2" height="1.3" fill="#333"/>
<path d="M431 400.9 l1.4 -1.6" stroke="#888" stroke-width="1.2" stroke-linecap="round"/>
<circle cx="444.3" cy="392.5" r="2.1" fill="#111"/>
<rect x="443.2" y="387.2" width="2.2" height="1.3" fill="#333"/>
<path d="M439.9 400.9 l1.4 -1.6" stroke="#888" stroke-width="1.2" stroke-linecap="round"/>
<circle cx="460.5" cy="392.5" r="2.1" fill="#111"/>
<rect x="459.4" y="387.2" width="2.2" height="1.3" fill="#333"/>
<path d="M456.1 400.9 l1.4 -1.6" stroke="#888" stroke-width="1.2" stroke-linecap="round"/>
<circle cx="470.3" cy="392.5" r="2.1" fill="#111"/>
<rect x="469.2" y="387.2" width="2.2" height="1.3" fill="#333"/>
<path d="M465.9 400.9 l1.4 -1.6" stroke="#888" stroke-width="1.2" stroke-linecap="round"/>
<circle cx="485.9" cy="392.5" r="2.1" fill="#111"/>
<rect x="484.8" y="387.2" width="2.2" height="1.3" fill="#333"/>
<path d="M481.5 400.9 l1.4 -1.6" stroke="#888" stroke-width="1.2" stroke-linecap="round"/>
<circle cx="495.5" cy="392.5" r="2.1" fill="#111"/>
<rect x="494.4" y="387.2" width="2.2" height="1.3" fill="#333"/>
<path d="M491.1 400.9 l1.4 -1.6" stroke="#888" stroke-width="1.2" stroke-linecap="round"/>
<circle cx="512.2" cy="392.5" r="2.1" fill="#111"/>
<rect x="511.1" y="387.2" width="2.2" height="1.3" fill="#333"/>
<path d="M507.8 400.9 l1.4 -1.6" stroke="#888" stroke-width="1.2" stroke-linecap="round"/>
<circle cx="520.6" cy="392.5" r="2.1" fill="#111"/>
<rect x="519.5" y="387.2" width="2.2" height="1.3" fill="#333"/>
<path d="M516.2 400.9 l1.4 -1.6" stroke="#888" stroke-width="1.2" stroke-linecap="round"/>
<circle cx="413.1" cy="406.5" r="2.1" fill="#111"/>
<rect x="412.2" y="410.1" width="1.8" height="1.4" fill="#999"/>
<path d="M415.3 400.9 l1.4 -1.6" stroke="#777" stroke-width="1.3" stroke-linecap="round"/>
<circle cx="465" cy="406.5" r="2.1" fill="#111"/>
<rect x="464.1" y="410.1" width="1.8" height="1.4" fill="#999"/>
<path d="M467.2 400.9 l1.4 -1.6" stroke="#777" stroke-width="1.3" stroke-linecap="round"/>
<circle cx="491.7" cy="406.5" r="2.1" fill="#111"/>
<rect x="490.8" y="410.1" width="1.8" height="1.4" fill="#999"/>
<path d="M493.9 400.9 l1.4 -1.6" stroke="#777" stroke-width="1.3" stroke-linecap="round"/>
<circle cx="543.3" cy="406.5" r="2.1" fill="#111"/>
<rect x="542.4" y="410.1" width="1.8" height="1.4" fill="#999"/>
<path d="M545.5 400.9 l1.4 -1.6" stroke="#777" stroke-width="1.3" stroke-linecap="round"/>
<line x1="413.1" y1="388.5" x2="403.6" y2="405" stroke="#1a1a1a" stroke-width="4.6" stroke-linecap="round"/>
<ellipse cx="407.9" cy="397.6" rx="5" ry="3" transform="rotate(119.9 407.9 397.6)" fill="#1a1a1a"/>
<circle cx="403.6" cy="405" r="5" fill="#6a1a5a" opacity="0.3"/>
<circle cx="403.6" cy="405" r="3.1" fill="#6a1a5a"/>
<line x1="541.1" y1="388.5" x2="551.1" y2="405" stroke="#1a1a1a" stroke-width="4.6" stroke-linecap="round"/>
<ellipse cx="546.6" cy="397.6" rx="5" ry="3" transform="rotate(58.8 546.6 397.6)" fill="#1a1a1a"/>
<circle cx="551.1" cy="405" r="5" fill="#6a1a5a" opacity="0.3"/>
<circle cx="551.1" cy="405" r="3.1" fill="#6a1a5a"/>
<rect x="472" y="401.5" width="11" height="1.2" fill="#777"/>
<rect x="470.5" y="403.3" width="15" height="4.4" rx="0.6" fill="#505050"/>
<rect x="472.9" y="404" width="0.7" height="3" fill="#bbb"/>
<rect x="475.4" y="404" width="0.7" height="3" fill="#bbb"/>
<rect x="477.9" y="404" width="0.7" height="3" fill="#bbb"/>
<rect x="480.4" y="404" width="0.7" height="3" fill="#bbb"/>
<rect x="482.9" y="404" width="0.7" height="3" fill="#bbb"/>

<rect x="584.6" y="384.9" width="162.6" height="28.9" rx="2.8" fill="#fff" stroke="#444" stroke-width="2.1"/>
<circle cx="623.4" cy="392.6" r="2.1" fill="#111"/>
<rect x="622.3" y="387.3" width="2.2" height="1.3" fill="#333"/>
<path d="M619 401 l1.4 -1.6" stroke="#888" stroke-width="1.2" stroke-linecap="round"/>
<circle cx="683.5" cy="392.6" r="2.1" fill="#111"/>
<rect x="682.4" y="387.3" width="2.2" height="1.3" fill="#333"/>
<path d="M679.1 401 l1.4 -1.6" stroke="#888" stroke-width="1.2" stroke-linecap="round"/>
<circle cx="700.2" cy="392.6" r="2.1" fill="#111"/>
<rect x="699.1" y="387.3" width="2.2" height="1.3" fill="#333"/>
<path d="M695.8 401 l1.4 -1.6" stroke="#888" stroke-width="1.2" stroke-linecap="round"/>
<circle cx="708" cy="392.6" r="2.1" fill="#111"/>
<rect x="706.9" y="387.3" width="2.2" height="1.3" fill="#333"/>
<path d="M703.6 401 l1.4 -1.6" stroke="#888" stroke-width="1.2" stroke-linecap="round"/>
<circle cx="592.2" cy="406.6" r="2.1" fill="#111"/>
<rect x="591.3" y="410.2" width="1.8" height="1.4" fill="#999"/>
<path d="M594.4 401 l1.4 -1.6" stroke="#777" stroke-width="1.3" stroke-linecap="round"/>
<circle cx="600.5" cy="406.6" r="2.1" fill="#111"/>
<rect x="599.6" y="410.2" width="1.8" height="1.4" fill="#999"/>
<path d="M602.7 401 l1.4 -1.6" stroke="#777" stroke-width="1.3" stroke-linecap="round"/>
<circle cx="731.3" cy="406.6" r="2.1" fill="#111"/>
<rect x="730.4" y="410.2" width="1.8" height="1.4" fill="#999"/>
<path d="M733.5 401 l1.4 -1.6" stroke="#777" stroke-width="1.3" stroke-linecap="round"/>
<circle cx="739.8" cy="406.6" r="2.1" fill="#111"/>
<rect x="738.9" y="410.2" width="1.8" height="1.4" fill="#999"/>
<path d="M742 401 l1.4 -1.6" stroke="#777" stroke-width="1.3" stroke-linecap="round"/>
<line x1="647" y1="392.6" x2="670" y2="392.6" stroke="#161616" stroke-width="4.6" stroke-linecap="round"/><ellipse cx="658" cy="392.6" rx="7" ry="3" fill="#161616"/><circle cx="672.5" cy="392.6" r="4.2" fill="#8a1020" opacity="0.3"/><circle cx="672.5" cy="392.6" r="3" fill="#8a1424"/><path d="M645.5 393 C641 389.5, 635 388.5, 632.5 390.5 C630.5 392.5, 634 395, 639 395.2 C642 395.3, 644 396.2, 645.5 397.5" fill="none" stroke="#111" stroke-width="2"/><line x1="655" y1="406.6" x2="678" y2="406.6" stroke="#161616" stroke-width="4.6" stroke-linecap="round"/><ellipse cx="665" cy="406.6" rx="7.5" ry="3.1" fill="#161616"/><circle cx="653.5" cy="406.6" r="4.3" fill="#0e6b5a" opacity="0.3"/><circle cx="653.5" cy="406.6" r="3" fill="#0e5f4f"/><circle cx="679.5" cy="406.8" r="1.6" fill="#111"/><path d="M682 406.5 C686 403.5, 693 402, 696 404 C698 406, 693 408.5, 688 408 M682 409.5 L697 409.5" fill="none" stroke="#111" stroke-width="1.9"/>
</g>
<g font-family="Liberation Sans, sans-serif" fill="#111">
<text transform="translate(60.2 228.3) scale(0.740 1)" x="-1" y="0" font-size="19.04" textLength="117.60" lengthAdjust="spacing" stroke="#111" stroke-width="0.1">TRICEPSY</text>
<text transform="translate(276.5 227.6) scale(0.977 1)" x="-0.9" y="0" font-size="18.02" textLength="81.88" lengthAdjust="spacing" stroke="#111" stroke-width="0.1">MIĘŚNIE</text>
<text transform="translate(365.3 227.6) scale(1.047 1)" x="-0.9" y="0" font-size="18.02" textLength="131.88" lengthAdjust="spacing" stroke="#111" stroke-width="0.1">NARAMIENNE</text>
<text transform="translate(599.9 218.6) scale(1.029 1)" x="-0.5" y="0" font-size="10.17" textLength="41.25" lengthAdjust="spacing" stroke="#111" stroke-width="0.3">GÓRNA</text>
<text transform="translate(646.7 218.6) scale(0.850 1)" x="-0.5" y="0" font-size="10.17" textLength="38.21" lengthAdjust="spacing" stroke="#111" stroke-width="0.3">CZĘŚĆ</text>
<text transform="translate(683.2 218.6) scale(1.089 1)" x="-0.5" y="0" font-size="10.17" textLength="46.19" lengthAdjust="spacing" stroke="#111" stroke-width="0.3">MIĘŚNIA</text>
<text transform="translate(594.2 231.3) scale(0.900 1)" x="-0.5" y="0" font-size="10.76" textLength="85.26" lengthAdjust="spacing" stroke="#111" stroke-width="0.3">PIERSIOWEGO</text>
<text transform="translate(674.6 231.3) scale(0.903 1)" x="-0.5" y="0" font-size="10.76" textLength="71.62" lengthAdjust="spacing" stroke="#111" stroke-width="0.3">WIĘKSZEGO</text>
<text transform="translate(26.8 430.6) scale(1.065 1)" x="-0.5" y="0" font-size="9.74" textLength="39.64" lengthAdjust="spacing" stroke="#111" stroke-width="0.3">GÓRNA</text>
<text transform="translate(73.4 430.6) scale(0.896 1)" x="-0.5" y="0" font-size="9.74" textLength="36.70" lengthAdjust="spacing" stroke="#111" stroke-width="0.3">CZĘŚĆ</text>
<text transform="translate(110.3 430.6) scale(1.120 1)" x="-0.5" y="0" font-size="9.74" textLength="44.71" lengthAdjust="spacing" stroke="#111" stroke-width="0.3">MIĘŚNIA</text>
<text transform="translate(20.8 443.4) scale(0.927 1)" x="-0.5" y="0" font-size="10.47" textLength="82.90" lengthAdjust="spacing" stroke="#111" stroke-width="0.3">PIERSIOWEGO</text>
<text transform="translate(101.6 443.4) scale(0.936 1)" x="-0.5" y="0" font-size="10.47" textLength="69.64" lengthAdjust="spacing" stroke="#111" stroke-width="0.3">WIĘKSZEGO</text>
<text transform="translate(225.9 441.6) scale(0.992 1)" x="-0.9" y="0" font-size="17.15" textLength="91.48" lengthAdjust="spacing" stroke="#111" stroke-width="0.1">MIĘŚNIEŃ</text>
<text transform="translate(328.9 441.6) scale(1.003 1)" x="-0.9" y="0" font-size="17.15" textLength="107.02" lengthAdjust="spacing" stroke="#111" stroke-width="0.1">PIERSIOWY</text>
<text transform="translate(441.5 441.6) scale(0.997 1)" x="-0.9" y="0" font-size="17.15" textLength="85.29" lengthAdjust="spacing" stroke="#111" stroke-width="0.1">WIĘKSZY</text>
<text transform="translate(628.6 428.8) scale(0.921 1)" x="-0.6" y="0" font-size="11.63" textLength="64.25" lengthAdjust="spacing" stroke="#111" stroke-width="0.3">TRICEPSY</text>
<text transform="translate(575.2 445.7) scale(0.720 1)" x="-0.6" y="0" font-size="12.79" textLength="3.94" lengthAdjust="spacing" stroke="#111" stroke-width="0.3">I</text>
<text transform="translate(583.6 445.7) scale(0.961 1)" x="-0.6" y="0" font-size="12.79" textLength="58.25" lengthAdjust="spacing" stroke="#111" stroke-width="0.3">MIĘŚNIE</text>
<text transform="translate(647.5 445.7) scale(0.992 1)" x="-0.6" y="0" font-size="12.79" textLength="93.79" lengthAdjust="spacing" stroke="#111" stroke-width="0.3">NARAMIENNE</text>
</g>
</svg>
</body></html>
